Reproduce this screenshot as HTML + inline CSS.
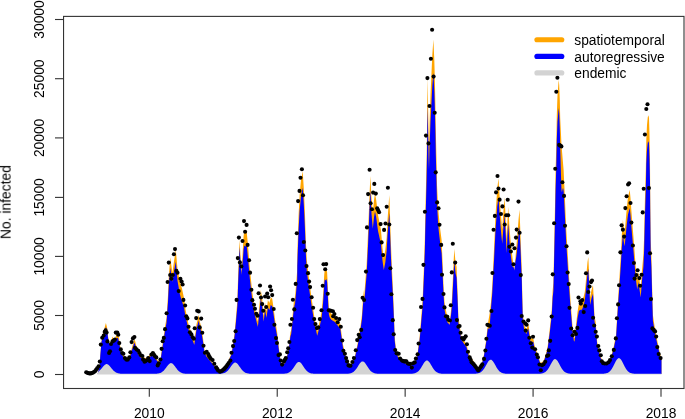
<!DOCTYPE html>
<html><head><meta charset="utf-8"><style>
html,body{margin:0;padding:0;background:#fff;width:685px;height:419px;overflow:hidden}
svg{display:block}
text{font-family:"Liberation Sans", sans-serif;font-size:13.8px;fill:#000}
svg{-webkit-font-smoothing:antialiased}
.t{filter:grayscale(1)}
</style></head><body>
<svg width="685" height="419" viewBox="0 0 685 419">
<rect width="685" height="419" fill="#fff"/>
<polygon points="97.6,374.1 97.6,374.3 99.6,365.5 99.9,361 100.3,355 100.8,349 101.5,341 102.5,335.5 104,330 105.2,325.5 105.9,323.1 107.1,327.5 108.1,336.5 109.3,342.5 110.3,343.5 111.5,340 112.6,336.5 113.6,339.5 115,338.5 116.5,334.5 117.8,334 119,338 119.8,343.5 121.2,351.6 123.4,355 125.6,357.5 127.8,357 129.3,356 130.7,353 132.2,346.5 134.4,339.2 135.4,342.1 136.8,347.9 138.7,353 140.9,356 143.1,356.5 145.3,358.3 147.5,357 149.7,355 151.9,353.8 153.8,355.2 155.5,357.4 157.7,360.3 159.2,361.1 160.6,358.9 162.1,347.2 163.6,337 165,326.8 166.5,318 168,295 168.8,276.5 170.2,257.2 172.4,272.8 173.9,261.9 175.8,249.5 177.5,269.2 179.7,280.9 181.9,288.2 184.1,298.4 185.5,309.6 188.5,324.2 191.4,333 194.3,341.7 196.5,324.2 198.7,314.7 200.1,322.7 201.6,328.6 203.1,338.8 204.5,350.5 206.7,355 211.1,360.9 215.5,366.7 218.4,372.6 219.9,373.3 224.2,368.2 227.2,363.8 230.1,356.5 231.5,353.4 233,344 234.5,333.8 235.9,318 237.4,299.4 238.1,276 239.6,239.8 240.5,256 241.4,272 242.5,255 243.6,236 244.3,231.5 245.5,232.5 246.6,231 247.3,238 248.4,250 249.3,262 250,270 252.2,291.5 254.3,305.8 256.5,315.8 257.9,321.6 259.3,305.8 260.8,290.1 262.2,298.7 263.6,315.8 265.1,303 266.5,311.5 267.9,300.1 269.4,303 270.8,297.2 272.2,298.7 273.7,308.7 275.1,320 277,331 278.5,344.2 279.9,355.9 281.4,363.2 282.8,364.6 285,361.7 287.2,354.4 288.7,347.1 290.4,332.5 291.2,330 292.3,318 293.5,306 294.2,296 294.6,302 295.8,288 296.6,278 297.2,270 297.3,255 297.9,236 298.6,215 299.6,195 301,180 302.7,171.2 303.9,190 305,215 305.8,240 306.8,260 308.1,271.2 311.2,295.6 314.2,315.9 317.2,331.5 319.5,322 321.5,312 322.5,302 323.4,290 324.2,275 324.8,269 325.6,270 326.4,268.5 327.1,272 327.7,284 328.3,298 328.9,308 329.8,311.5 331.4,313.8 334.5,315.9 337.5,319.9 340.3,324 342.9,344.2 345.8,355.9 348.8,363.2 350.2,365.4 352.5,362 354.6,357.3 357.5,344.2 360.4,326.7 361.9,315 362.6,305 363.4,290 364,298 365.2,283 366.6,265 367.5,245 368.5,221 369.5,195 370.4,176.1 371.4,196.5 372.8,212.6 374,200 375,193.6 376.2,200 377.2,208.2 378,215 379.4,222 380.9,229.6 382.5,248 383.8,258.5 385.3,250 386.7,236.9 387.5,220 389.3,195 390,215 390.8,240 391.4,255 391.8,265 393,290 394,315 394.7,336.9 396.2,351.5 399.9,358.8 404.2,361.7 408.6,363.9 411.5,364.6 414.5,361.7 417.4,354.4 419.6,336.9 421,320 422.6,300 423.8,270 424.8,240 425.3,215 426,185 426.6,160 427,130 427.3,100 427.5,78 428,100 428.6,135 429,148 429.6,122 430.5,95 431.4,75 432.3,55 433.4,39.5 434.3,60 434.9,81 435.4,105 435.8,130 436.5,160 437,185 438,205 438.7,214.2 440.3,230 441.6,240 442.5,260 443.5,285 444.5,302 445.3,307 447.4,316.9 449.6,324.2 451.1,309.6 452,298 452.8,280 453.6,262 454.3,248.8 455.5,261.9 456.6,267 457.3,285 457.7,295 458.4,316.9 461.3,335.9 465.7,343.2 466.5,344 468.6,353.4 473.8,361.5 478.2,370.3 478.9,371.4 481.1,367.3 484,354.2 486.2,339.6 487.7,325 489.8,312.5 491,302 492.3,285 493,270 494.2,245 495.5,215 496.5,200 497.3,188 498.5,178.2 499.5,195 500.7,212 502.2,229.5 503.5,210 504.6,197.2 505.5,215 506.7,239.6 507.5,220 508.2,206.7 509.3,225 510.5,240 512.5,258 514.4,270.5 516.5,245 518.5,220 519.5,209.6 520.5,235 521.5,262 521.8,270 522.2,290 522.8,314.3 524.3,325.5 526.3,329.6 528.3,323.5 529.3,330.6 530.4,337.7 533.4,338.7 534.4,344.8 536.4,350.9 538.5,357 540.5,363 543.5,361 545.6,354.9 547.6,346.8 549.6,330.6 551.7,310.3 552.7,290 553.4,283 554.1,250 554.6,225 555.1,200 555.6,170 556.3,145 556.8,115 557.5,95 558.7,79.7 559.2,85 559.8,100 560.2,118 561.5,145 563.6,170 565,200 566.2,228 567.5,250 569.4,283 570.5,300 572.3,323.8 573.8,336.9 574.5,338.2 576,325 577.5,312 579,303 580.5,300 582,299 583.5,297 584.8,292 585.8,282 586.6,272 587.5,262 588.3,257.1 589.2,275 590.1,297.3 591.5,290 593,284.9 593.8,300 594.5,316 595.7,322 597.2,341.9 600.1,355 603,362.3 605.2,363.8 609.6,360.9 613.2,349.2 616.1,334.6 616.9,320 618,300 619.3,280 620.8,255 621.8,235 622.9,220.1 623.8,228 624.6,233 625.6,222 626.8,208 628,197 629.7,189.8 630.5,198 631.3,209.4 632.5,225 633.6,238.7 634.6,252 635.8,268 637.2,280.3 638.4,271.7 640.7,288.9 642,270 643.4,255 644.1,237.3 644.9,200 645.8,170 646.3,140 647,125 647.8,117 648.4,115.3 649,118 649.5,135 650,160 650.2,190 650.7,240 651.4,255 652.1,285 652.9,315 655.1,329.6 658,344.2 660.9,357.3 661.5,358.2 661.5,374.3 661.5,374.1" fill="#FFA500"/>
<polygon points="97.6,374.1 97.6,374.3 97.85,373.2 98.1,372.1 98.35,371.07 98.6,370.06 98.85,369.03 99.1,368 99.35,366.95 99.6,365.88 99.85,362.3 99.9,361.58 100.1,358.65 100.3,355.67 100.35,355.07 100.6,352.04 100.8,349.64 100.85,349.07 101.1,346.28 101.35,343.6 101.5,342.05 101.6,341.61 101.85,340.56 102.1,339.56 102.35,338.56 102.5,337.95 102.6,337.71 102.85,337.06 103.1,336.36 103.35,335.62 103.6,334.83 103.85,334.01 104,333.51 104.1,333.17 104.35,332.31 104.6,331.44 104.85,330.57 105.1,329.69 105.2,329.33 105.35,328.85 105.6,328.03 105.85,327.2 105.9,327.04 106.1,327.65 106.35,328.41 106.6,329.17 106.85,329.91 107.1,330.65 107.35,332.6 107.6,334.55 107.85,336.52 108.1,338.49 108.35,339.54 108.6,340.61 108.85,341.68 109.1,342.77 109.3,343.65 109.35,343.69 109.6,343.86 109.85,344.05 110.1,344.26 110.3,344.44 110.35,344.3 110.6,343.61 110.85,342.94 111.1,342.3 111.35,341.69 111.5,341.33 111.6,341.07 111.85,340.44 112.1,339.83 112.35,339.24 112.6,338.66 112.85,339.53 113.1,340.38 113.35,341.23 113.6,342.05 113.85,342.01 114.1,341.96 114.35,341.9 114.6,341.82 114.85,341.73 115,341.67 115.1,341.46 115.35,340.91 115.6,340.35 115.85,339.79 116.1,339.22 116.35,338.64 116.5,338.29 116.6,338.27 116.85,338.2 117.1,338.13 117.35,338.05 117.6,337.98 117.8,337.91 117.85,338.07 118.1,338.82 118.35,339.58 118.6,340.34 118.85,341.09 119,341.55 119.1,342.17 119.35,343.72 119.6,345.27 119.8,346.51 119.85,346.77 120.1,348.07 120.35,349.38 120.6,350.68 120.85,351.99 121.1,353.29 121.2,353.81 121.35,354.02 121.6,354.37 121.85,354.72 122.1,355.07 122.35,355.42 122.6,355.76 122.85,356.11 123.1,356.46 123.35,356.81 123.4,356.88 123.6,357.09 123.85,357.34 124.1,357.6 124.35,357.85 124.6,358.11 124.85,358.37 125.1,358.62 125.35,358.88 125.6,359.13 125.85,359.08 126.1,359.03 126.35,358.98 126.6,358.93 126.85,358.88 127.1,358.83 127.35,358.78 127.6,358.73 127.8,358.68 127.85,358.65 128.1,358.5 128.35,358.35 128.6,358.2 128.85,358.05 129.1,357.9 129.3,357.78 129.35,357.69 129.6,357.21 129.85,356.72 130.1,356.24 130.35,355.76 130.6,355.28 130.7,355.08 130.85,354.5 131.1,353.52 131.35,352.55 131.6,351.57 131.85,350.6 132.1,349.62 132.2,349.23 132.35,348.79 132.6,348.04 132.85,347.29 133.1,346.55 133.35,345.8 133.6,345.05 133.85,344.31 134.1,343.56 134.35,342.81 134.4,342.66 134.6,343.19 134.85,343.84 135.1,344.49 135.35,345.14 135.4,345.27 135.6,346.02 135.85,346.95 136.1,347.88 136.35,348.82 136.6,349.75 136.8,350.49 136.85,350.62 137.1,351.22 137.35,351.82 137.6,352.43 137.85,353.03 138.1,353.64 138.35,354.24 138.6,354.84 138.7,355.08 138.85,355.27 139.1,355.58 139.35,355.88 139.6,356.19 139.85,356.5 140.1,356.8 140.35,357.11 140.6,357.42 140.85,357.72 140.9,357.78 141.1,357.83 141.35,357.88 141.6,357.93 141.85,357.98 142.1,358.03 142.35,358.08 142.6,358.13 142.85,358.18 143.1,358.23 143.35,358.42 143.6,358.6 143.85,358.79 144.1,358.97 144.35,359.16 144.6,359.34 144.85,359.52 145.1,359.71 145.3,359.85 145.35,359.83 145.6,359.7 145.85,359.56 146.1,359.43 146.35,359.3 146.6,359.16 146.85,359.03 147.1,358.9 147.35,358.76 147.5,358.68 147.6,358.6 147.85,358.4 148.1,358.19 148.35,357.99 148.6,357.78 148.85,357.58 149.1,357.38 149.35,357.17 149.6,356.97 149.7,356.88 149.85,356.81 150.1,356.69 150.35,356.56 150.6,356.44 150.85,356.32 151.1,356.2 151.35,356.07 151.6,355.95 151.85,355.83 151.9,355.8 152.1,355.94 152.35,356.1 152.6,356.27 152.85,356.43 153.1,356.6 153.35,356.76 153.6,356.93 153.8,357.06 153.85,357.12 154.1,357.41 154.35,357.7 154.6,357.99 154.85,358.28 155.1,358.57 155.35,358.86 155.5,359.03 155.6,359.15 155.85,359.45 156.1,359.74 156.35,360.04 156.6,360.33 156.85,360.63 157.1,360.92 157.35,361.22 157.6,361.51 157.7,361.63 157.85,361.7 158.1,361.81 158.35,361.93 158.6,362.04 158.85,362.16 159.1,362.27 159.2,362.32 159.35,362.1 159.6,361.74 159.85,361.38 160.1,361.02 160.35,360.65 160.6,360.29 160.85,358.53 161.1,356.76 161.35,354.99 161.6,353.22 161.85,351.45 162.1,349.68 162.35,348.13 162.6,346.58 162.85,345.03 163.1,343.48 163.35,341.93 163.6,340.37 163.85,338.71 164.1,337.04 164.35,335.37 164.6,333.71 164.85,332.04 165,331.03 165.1,330.49 165.35,329.14 165.6,327.79 165.85,326.43 166.1,325.08 166.35,323.73 166.5,322.91 166.6,321.52 166.85,318.03 167.1,314.55 167.35,311.07 167.6,307.58 167.85,304.1 168,302.01 168.1,299.92 168.35,294.69 168.6,289.46 168.8,285.28 168.85,284.65 169.1,281.53 169.35,278.4 169.6,275.28 169.85,272.17 170.1,269.05 170.2,267.81 170.35,268.76 170.6,270.35 170.85,271.94 171.1,273.53 171.35,275.13 171.6,276.74 171.85,278.34 172.1,279.95 172.35,281.56 172.4,281.88 172.6,280.59 172.85,278.98 173.1,277.37 173.35,275.77 173.6,274.17 173.85,272.58 173.9,272.26 174.1,271.13 174.35,269.71 174.6,268.31 174.85,266.91 175.1,265.53 175.35,264.16 175.6,262.81 175.8,261.74 175.85,262.29 176.1,265.03 176.35,267.79 176.6,270.56 176.85,273.35 177.1,276.15 177.35,278.96 177.5,280.65 177.6,281.23 177.85,282.68 178.1,284.14 178.35,285.61 178.6,287.08 178.85,288.56 179.1,290.03 179.35,291.49 179.6,292.93 179.7,293.5 179.85,294.09 180.1,295.06 180.35,295.99 180.6,296.89 180.85,297.75 181.1,298.56 181.35,299.33 181.6,300.05 181.85,300.74 181.9,300.87 182.1,301.6 182.35,302.48 182.6,303.34 182.85,304.16 183.1,304.96 183.35,305.75 183.6,306.54 183.85,307.32 184.1,308.1 184.35,309.63 184.6,311.17 184.85,312.73 185.1,314.32 185.35,315.92 185.5,316.9 185.6,317.28 185.85,318.23 186.1,319.2 186.35,320.19 186.6,321.2 186.85,322.22 187.1,323.25 187.35,324.3 187.6,325.35 187.85,326.42 188.1,327.49 188.35,328.56 188.5,329.21 188.6,329.48 188.85,330.15 189.1,330.82 189.35,331.5 189.6,332.18 189.85,332.86 190.1,333.54 190.35,334.22 190.6,334.9 190.85,335.58 191.1,336.27 191.35,336.95 191.4,337.08 191.6,337.62 191.85,338.3 192.1,338.97 192.35,339.65 192.6,340.32 192.85,341 193.1,341.67 193.35,342.35 193.6,343.02 193.85,343.7 194.1,344.37 194.3,344.91 194.35,344.56 194.6,342.77 194.85,340.98 195.1,339.19 195.35,337.4 195.6,335.61 195.85,333.82 196.1,332.03 196.35,330.24 196.5,329.16 196.6,328.78 196.85,327.8 197.1,326.83 197.35,325.86 197.6,324.89 197.85,323.92 198.1,322.95 198.35,321.98 198.6,321 198.7,320.61 198.85,321.39 199.1,322.67 199.35,323.96 199.6,325.24 199.85,326.53 200.1,327.81 200.35,328.7 200.6,329.58 200.85,330.47 201.1,331.35 201.35,332.24 201.6,333.12 201.85,334.65 202.1,336.18 202.35,337.71 202.6,339.24 202.85,340.77 203.1,342.31 203.35,344.19 203.6,346.07 203.85,347.95 204.1,349.83 204.35,351.71 204.5,352.83 204.6,353.02 204.85,353.48 205.1,353.94 205.35,354.4 205.6,354.86 205.85,355.32 206.1,355.78 206.35,356.24 206.6,356.7 206.7,356.88 206.85,357.07 207.1,357.37 207.35,357.67 207.6,357.97 207.85,358.27 208.1,358.57 208.35,358.88 208.6,359.18 208.85,359.48 209.1,359.78 209.35,360.08 209.6,360.38 209.85,360.69 210.1,360.99 210.35,361.29 210.6,361.59 210.85,361.89 211.1,362.19 211.35,362.49 211.6,362.79 211.85,363.08 212.1,363.38 212.35,363.68 212.6,363.97 212.85,364.27 213.1,364.57 213.35,364.86 213.6,365.16 213.85,365.46 214.1,365.75 214.35,366.05 214.6,366.35 214.85,366.64 215.1,366.94 215.35,367.24 215.5,367.41 215.6,367.6 215.85,368.05 216.1,368.51 216.35,368.97 216.6,369.43 216.85,369.88 217.1,370.34 217.35,370.8 217.6,371.26 217.85,371.71 218.1,372.17 218.35,372.63 218.4,372.72 218.6,372.8 218.85,372.91 219.1,373.01 219.35,373.11 219.6,373.22 219.85,373.32 219.9,373.34 220.1,373.13 220.35,372.86 220.6,372.59 220.85,372.32 221.1,372.05 221.35,371.78 221.6,371.51 221.85,371.24 222.1,370.97 222.35,370.7 222.6,370.43 222.85,370.16 223.1,369.89 223.35,369.61 223.6,369.34 223.85,369.07 224.1,368.79 224.2,368.68 224.35,368.48 224.6,368.14 224.85,367.8 225.1,367.45 225.35,367.11 225.6,366.77 225.85,366.42 226.1,366.08 226.35,365.73 226.6,365.38 226.85,365.03 227.1,364.68 227.2,364.54 227.35,364.18 227.6,363.59 227.85,363 228.1,362.41 228.35,361.81 228.6,361.22 228.85,360.62 229.1,360.02 229.35,359.42 229.6,358.82 229.85,358.22 230.1,357.62 230.35,357.08 230.6,356.55 230.85,356.02 231.1,355.48 231.35,354.95 231.5,354.63 231.6,354.05 231.85,352.61 232.1,351.16 232.35,349.72 232.6,348.28 232.85,346.84 233,345.98 233.1,345.36 233.35,343.81 233.6,342.25 233.85,340.71 234.1,339.16 234.35,337.62 234.5,336.69 234.6,335.67 234.85,333.13 235.1,330.59 235.35,328.05 235.6,325.51 235.85,322.98 235.9,322.47 236.1,320.25 236.35,317.47 236.6,314.7 236.85,311.93 237.1,309.16 237.35,306.38 237.4,305.82 237.6,299.8 237.85,292.21 238.1,284.5 238.35,278.69 238.6,272.59 238.85,266.21 239.1,259.67 239.35,253.21 239.6,247.11 239.85,251.36 240.1,255.75 240.35,259.87 240.5,262.12 240.6,263.5 240.85,266.79 241.1,270.19 241.35,274.06 241.4,274.92 241.6,272.14 241.85,269.26 242.1,266.87 242.35,264.71 242.5,263.41 242.6,262.34 242.85,259.49 243.1,256.35 243.35,252.95 243.6,249.34 243.85,248.04 244.1,246.66 244.3,245.54 244.35,245.58 244.6,245.8 244.85,246 245.1,246.2 245.35,246.4 245.5,246.52 245.6,246.4 245.85,246.11 246.1,245.81 246.35,245.51 246.6,245.21 246.85,247.47 247.1,249.73 247.3,251.53 247.35,252.02 247.6,254.48 247.85,256.94 248.1,259.4 248.35,261.86 248.4,262.35 248.6,264.76 248.85,267.76 249.1,270.76 249.3,273.16 249.35,273.68 249.6,276.25 249.85,278.83 250,280.37 250.1,281.25 250.35,283.45 250.6,285.65 250.85,287.85 251.1,290.05 251.35,292.25 251.6,294.45 251.85,296.65 252.1,298.85 252.2,299.73 252.35,300.65 252.6,302.18 252.85,303.71 253.1,305.25 253.35,306.78 253.6,308.31 253.85,309.84 254.1,311.38 254.3,312.6 254.35,312.81 254.6,313.83 254.85,314.85 255.1,315.88 255.35,316.9 255.6,317.92 255.85,318.94 256.1,319.97 256.35,320.99 256.5,321.6 256.6,321.98 256.85,322.91 257.1,323.84 257.35,324.77 257.6,325.71 257.85,326.64 257.9,326.82 258.1,324.79 258.35,322.25 258.6,319.71 258.85,317.18 259.1,314.64 259.3,312.6 259.35,312.13 259.6,309.78 259.85,307.42 260.1,305.07 260.35,302.71 260.6,300.36 260.8,298.47 260.85,298.75 261.1,300.13 261.35,301.52 261.6,302.9 261.85,304.28 262.1,305.66 262.2,306.21 262.35,307.86 262.6,310.61 262.85,313.36 263.1,316.11 263.35,318.86 263.6,321.6 263.85,319.68 264.1,317.76 264.35,315.84 264.6,313.92 264.85,312 265.1,310.08 265.35,311.45 265.6,312.82 265.85,314.18 266.1,315.55 266.35,316.92 266.5,317.73 266.6,317 266.85,315.17 267.1,313.34 267.35,311.51 267.6,309.67 267.85,307.84 267.9,307.47 268.1,307.82 268.35,308.26 268.6,308.69 268.85,309.13 269.1,309.56 269.35,310 269.4,310.08 269.6,309.34 269.85,308.41 270.1,307.47 270.35,306.54 270.6,305.61 270.8,304.86 270.85,304.91 271.1,305.15 271.35,305.4 271.6,305.64 271.85,305.88 272.1,306.12 272.2,306.21 272.35,307.11 272.6,308.61 272.85,310.11 273.1,311.61 273.35,313.11 273.6,314.61 273.7,315.21 273.85,316.3 274.1,318.12 274.35,319.94 274.6,321.75 274.85,323.57 275.1,325.38 275.35,326.69 275.6,327.99 275.85,329.29 276.1,330.6 276.35,331.9 276.6,333.2 276.85,334.5 277,335.28 277.1,336.08 277.35,338.06 277.6,340.04 277.85,342.02 278.1,344 278.35,345.98 278.5,347.16 278.6,347.92 278.85,349.8 279.1,351.68 279.35,353.56 279.6,355.44 279.85,357.32 279.9,357.69 280.1,358.57 280.35,359.66 280.6,360.76 280.85,361.85 281.1,362.95 281.35,364.04 281.4,364.26 281.6,364.44 281.85,364.66 282.1,364.89 282.35,365.11 282.6,365.34 282.8,365.52 282.85,365.46 283.1,365.16 283.35,364.86 283.6,364.56 283.85,364.27 284.1,363.97 284.35,363.67 284.6,363.37 284.85,363.07 285,362.89 285.1,362.59 285.35,361.84 285.6,361.09 285.85,360.34 286.1,359.59 286.35,358.84 286.6,358.09 286.85,357.33 287.1,356.58 287.2,356.28 287.35,355.62 287.6,354.51 287.85,353.41 288.1,352.31 288.35,351.2 288.6,350.09 288.7,349.65 288.85,348.48 289.1,346.54 289.35,344.59 289.6,342.64 289.85,340.69 290.1,338.74 290.35,336.79 290.4,336.4 290.6,335.82 290.85,335.09 291.1,334.36 291.2,334.07 291.35,332.58 291.6,330.1 291.85,327.62 292.1,325.13 292.3,323.15 292.35,322.69 292.6,320.41 292.85,318.12 293.1,315.84 293.35,313.55 293.5,312.18 293.6,310.88 293.85,307.63 294.1,304.38 294.2,303.07 294.35,305.08 294.6,308.41 294.85,305.75 295.1,303.09 295.35,300.43 295.6,297.77 295.8,295.64 295.85,295.07 296.1,292.22 296.35,289.38 296.6,286.54 296.85,283.51 297.1,280.48 297.2,279.27 297.3,265.76 297.35,264.33 297.6,257.18 297.85,250.03 297.9,248.6 298.1,243.18 298.35,236.39 298.6,229.6 298.85,225.04 299.1,220.46 299.35,215.85 299.6,211.22 299.85,208.64 300.1,206.03 300.35,203.39 300.6,200.73 300.85,198.04 301,196.43 301.1,195.86 301.35,194.45 301.6,193.08 301.85,191.75 302.1,190.5 302.35,189.32 302.6,188.22 302.7,187.81 302.85,190.06 303.1,193.87 303.35,197.71 303.6,201.58 303.85,205.44 303.9,206.22 304.1,210.58 304.35,216 304.6,221.39 304.85,226.74 305,229.92 305.1,232.81 305.35,240 305.6,247.15 305.8,252.85 305.85,253.77 306.1,258.34 306.35,262.9 306.6,267.44 306.8,271.07 306.85,271.47 307.1,273.44 307.35,275.4 307.6,277.36 307.85,279.32 308.1,281.28 308.35,283.07 308.6,284.86 308.85,286.64 309.1,288.42 309.35,290.21 309.6,291.99 309.85,293.77 310.1,295.55 310.35,297.33 310.6,299.11 310.85,300.89 311.1,302.66 311.2,303.37 311.35,304.29 311.6,305.82 311.85,307.35 312.1,308.87 312.35,310.4 312.6,311.92 312.85,313.45 313.1,314.98 313.35,316.5 313.6,318.02 313.85,319.55 314.1,321.07 314.2,321.68 314.35,322.39 314.6,323.56 314.85,324.73 315.1,325.9 315.35,327.07 315.6,328.24 315.85,329.41 316.1,330.58 316.35,331.75 316.6,332.92 316.85,334.09 317.1,335.26 317.2,335.73 317.35,335.17 317.6,334.25 317.85,333.32 318.1,332.39 318.35,331.46 318.6,330.53 318.85,329.6 319.1,328.67 319.35,327.74 319.5,327.18 319.6,326.73 319.85,325.61 320.1,324.48 320.35,323.36 320.6,322.23 320.85,321.11 321.1,319.98 321.35,318.86 321.5,318.18 321.6,317.28 321.85,315.03 322.1,312.78 322.35,310.53 322.5,309.18 322.6,307.98 322.85,304.98 323.1,301.98 323.35,298.98 323.4,298.38 323.6,295.01 323.85,290.79 324.1,286.57 324.2,284.88 324.35,283.53 324.6,281.28 324.8,279.48 324.85,279.54 325.1,279.82 325.35,280.1 325.6,280.38 325.85,279.96 326.1,279.54 326.35,279.12 326.4,279.03 326.6,279.93 326.85,281.06 327.1,282.18 327.35,286.68 327.6,291.18 327.7,292.98 327.85,296.13 328.1,301.38 328.3,305.58 328.35,306.33 328.6,310.08 328.85,313.83 328.9,314.58 329.1,315.28 329.35,316.16 329.6,317.03 329.8,317.73 329.85,317.8 330.1,318.12 330.35,318.45 330.6,318.77 330.85,319.09 331.1,319.42 331.35,319.74 331.4,319.8 331.6,319.93 331.85,320.08 332.1,320.23 332.35,320.38 332.6,320.54 332.85,320.69 333.1,320.84 333.35,320.99 333.6,321.15 333.85,321.3 334.1,321.45 334.35,321.6 334.5,321.69 334.6,321.81 334.85,322.11 335.1,322.41 335.35,322.71 335.6,323.01 335.85,323.31 336.1,323.61 336.35,323.91 336.6,324.21 336.85,324.51 337.1,324.81 337.35,325.11 337.5,325.29 337.6,325.43 337.85,325.76 338.1,326.09 338.35,326.41 338.6,326.74 338.85,327.07 339.1,327.4 339.35,327.73 339.6,328.06 339.85,328.39 340.1,328.72 340.3,328.98 340.35,329.33 340.6,331.08 340.85,332.83 341.1,334.58 341.35,336.33 341.6,338.07 341.85,339.82 342.1,341.57 342.35,343.32 342.6,345.07 342.85,346.81 342.9,347.16 343.1,347.89 343.35,348.8 343.6,349.7 343.85,350.61 344.1,351.52 344.35,352.43 344.6,353.33 344.85,354.24 345.1,355.15 345.35,356.06 345.6,356.96 345.8,357.69 345.85,357.8 346.1,358.34 346.35,358.89 346.6,359.44 346.85,359.98 347.1,360.53 347.35,361.08 347.6,361.62 347.85,362.17 348.1,362.71 348.35,363.26 348.6,363.8 348.8,364.24 348.85,364.31 349.1,364.66 349.35,365.01 349.6,365.36 349.85,365.71 350.1,366.06 350.2,366.19 350.35,365.99 350.6,365.65 350.85,365.31 351.1,364.97 351.35,364.63 351.6,364.29 351.85,363.95 352.1,363.6 352.35,363.26 352.5,363.05 352.6,362.84 352.85,362.32 353.1,361.8 353.35,361.28 353.6,360.76 353.85,360.24 354.1,359.71 354.35,359.19 354.6,358.66 354.85,357.62 355.1,356.57 355.35,355.53 355.6,354.48 355.85,353.43 356.1,352.38 356.35,351.33 356.6,350.28 356.85,349.22 357.1,348.17 357.35,347.12 357.5,346.48 357.6,345.92 357.85,344.53 358.1,343.13 358.35,341.73 358.6,340.33 358.85,338.94 359.1,337.54 359.35,336.15 359.6,334.75 359.85,333.36 360.1,331.97 360.35,330.58 360.4,330.3 360.6,328.88 360.85,327.1 361.1,325.32 361.35,323.55 361.6,321.77 361.85,320.01 361.9,319.65 362.1,317.08 362.35,313.86 362.6,310.64 362.85,306.42 363.1,302.21 363.35,298 363.4,297.16 363.6,299.57 363.85,302.58 364,304.4 364.1,303.28 364.35,300.49 364.6,297.7 364.85,294.92 365.1,292.13 365.2,291.02 365.35,289.31 365.6,286.45 365.85,283.59 366.1,280.73 366.35,277.88 366.6,275.02 366.85,270.04 367.1,265.06 367.35,260.04 367.5,257.01 367.6,254.82 367.85,249.28 368.1,243.63 368.35,237.84 368.5,234.29 368.6,231.71 368.85,225.16 369.1,218.49 369.35,211.81 369.5,207.84 369.6,205.69 369.85,200.48 370.1,195.58 370.35,191.04 370.4,190.17 370.6,194.47 370.85,199.98 371.1,205.51 371.35,210.97 371.4,212.04 371.6,214.65 371.85,217.78 372.1,220.75 372.35,223.6 372.6,226.35 372.8,228.5 372.85,228.04 373.1,225.73 373.35,223.41 373.6,221.06 373.85,218.72 374,217.3 374.1,216.73 374.35,215.3 374.6,213.87 374.85,212.43 375,211.57 375.1,212.06 375.35,213.26 375.6,214.47 375.85,215.67 376.1,216.87 376.2,217.36 376.35,218.46 376.6,220.31 376.85,222.16 377.1,224.01 377.2,224.75 377.35,225.9 377.6,227.81 377.85,229.72 378,230.87 378.1,231.32 378.35,232.45 378.6,233.58 378.85,234.7 379.1,235.83 379.35,236.95 379.4,237.18 379.6,238.09 379.85,239.23 380.1,240.37 380.35,241.51 380.6,242.65 380.85,243.79 380.9,244.02 381.1,246.09 381.35,248.68 381.6,251.27 381.85,253.86 382.1,256.44 382.35,259.03 382.5,260.58 382.6,261.31 382.85,263.13 383.1,264.95 383.35,266.76 383.6,268.58 383.8,270.03 383.85,269.78 384.1,268.5 384.35,267.23 384.6,265.95 384.85,264.68 385.1,263.4 385.3,262.38 385.35,261.96 385.6,259.86 385.85,257.75 386.1,255.65 386.35,253.54 386.6,251.44 386.7,250.59 386.85,247.74 387.1,242.99 387.35,238.24 387.5,235.38 387.6,234.13 387.85,231.01 388.1,227.88 388.35,224.76 388.6,221.63 388.85,218.51 389.1,215.38 389.3,212.88 389.35,214.17 389.6,220.6 389.85,227.03 390,230.88 390.1,233.7 390.35,240.73 390.6,247.76 390.8,253.38 390.85,254.51 391.1,260.13 391.35,265.76 391.4,266.88 391.6,271.38 391.8,275.88 391.85,276.82 392.1,281.51 392.35,286.2 392.6,290.88 392.85,295.57 393,298.38 393.1,300.63 393.35,306.26 393.6,311.88 393.85,317.51 394,320.88 394.1,323.7 394.35,330.74 394.6,337.78 394.7,340.59 394.85,341.91 395.1,344.1 395.35,346.29 395.6,348.48 395.85,350.67 396.1,352.86 396.2,353.73 396.35,354 396.6,354.45 396.85,354.89 397.1,355.33 397.35,355.78 397.6,356.22 397.85,356.66 398.1,357.11 398.35,357.55 398.6,358 398.85,358.44 399.1,358.88 399.35,359.33 399.6,359.77 399.85,360.22 399.9,360.3 400.1,360.43 400.35,360.58 400.6,360.73 400.85,360.88 401.1,361.03 401.35,361.18 401.6,361.34 401.85,361.49 402.1,361.64 402.35,361.79 402.6,361.94 402.85,362.1 403.1,362.25 403.35,362.4 403.6,362.55 403.85,362.7 404.1,362.85 404.2,362.91 404.35,362.98 404.6,363.09 404.85,363.21 405.1,363.32 405.35,363.43 405.6,363.54 405.85,363.66 406.1,363.77 406.35,363.88 406.6,363.99 406.85,364.11 407.1,364.22 407.35,364.33 407.6,364.44 407.85,364.56 408.1,364.67 408.35,364.78 408.6,364.89 408.85,364.95 409.1,365 409.35,365.05 409.6,365.11 409.85,365.16 410.1,365.21 410.35,365.27 410.6,365.32 410.85,365.37 411.1,365.43 411.35,365.48 411.5,365.51 411.6,365.42 411.85,365.2 412.1,364.99 412.35,364.77 412.6,364.55 412.85,364.33 413.1,364.1 413.35,363.88 413.6,363.66 413.85,363.44 414.1,363.22 414.35,362.99 414.5,362.86 414.6,362.63 414.85,362.06 415.1,361.48 415.35,360.91 415.6,360.33 415.85,359.76 416.1,359.18 416.35,358.6 416.6,358.02 416.85,357.44 417.1,356.86 417.35,356.28 417.4,356.16 417.6,354.71 417.85,352.9 418.1,351.09 418.35,349.28 418.6,347.47 418.85,345.65 419.1,343.83 419.35,342.02 419.6,340.19 419.85,337.45 420.1,334.7 420.35,331.94 420.6,329.19 420.85,326.44 421,324.78 421.1,323.64 421.35,320.79 421.6,317.94 421.85,315.08 422.1,312.23 422.35,309.37 422.6,306.52 422.85,300.85 423.1,295.18 423.35,289.52 423.6,283.85 423.8,279.32 423.85,277.96 424.1,271.17 424.35,264.39 424.6,257.61 424.8,252.18 424.85,249.93 425.1,238.65 425.3,229.63 425.35,227.69 425.6,218.03 425.85,208.37 426,202.58 426.1,198.82 426.35,189.43 426.6,180.05 426.85,163.18 427,153.05 427.1,144.05 427.3,126.06 427.35,121.11 427.5,106.26 427.6,110.23 427.85,120.14 428,126.09 428.1,131.34 428.35,144.49 428.6,157.64 428.85,164.98 429,169.38 429.1,165.49 429.35,155.78 429.6,146.06 429.85,139.35 430.1,132.63 430.35,125.92 430.5,121.9 430.6,119.91 430.85,114.96 431.1,110 431.35,105.04 431.4,104.05 431.6,100.08 431.85,95.13 432.1,90.17 432.3,86.2 432.35,85.58 432.6,82.45 432.85,79.32 433.1,76.19 433.35,73.05 433.4,72.43 433.6,76.55 433.85,81.71 434.1,86.87 434.3,91 434.35,92.58 434.6,100.48 434.85,108.39 434.9,109.97 435.1,118.63 435.35,129.45 435.4,131.62 435.6,142.89 435.8,154.15 435.85,156.09 436.1,165.75 436.35,175.41 436.5,181.21 436.6,185.71 436.85,196.98 437,203.74 437.1,205.55 437.35,210.06 437.6,214.57 437.85,219.08 438,221.79 438.1,222.98 438.35,225.94 438.6,228.91 438.7,230.09 438.85,231.43 439.1,233.66 439.35,235.89 439.6,238.12 439.85,240.34 440.1,242.57 440.3,244.35 440.35,244.7 440.6,246.43 440.85,248.17 441.1,249.9 441.35,251.63 441.6,253.37 441.85,258.37 442.1,263.37 442.35,268.37 442.5,271.37 442.6,273.62 442.85,279.25 443.1,284.88 443.35,290.5 443.5,293.88 443.6,295.41 443.85,299.23 444.1,303.06 444.35,306.89 444.5,309.18 444.6,309.74 444.85,311.15 445.1,312.56 445.3,313.68 445.35,313.89 445.6,314.95 445.85,316.01 446.1,317.07 446.35,318.11 446.6,319.15 446.85,320.15 447.1,321.12 447.35,322.02 447.4,322.19 447.6,322.58 447.85,322.98 448.1,323.27 448.35,323.46 448.6,323.61 448.85,323.78 449.1,324.05 449.35,324.5 449.6,325.19 449.85,322.94 450.1,320.94 450.35,319.16 450.6,317.52 450.85,315.95 451.1,314.36 451.35,311.96 451.6,309.46 451.85,306.85 452,305.24 452.1,303.29 452.35,298.34 452.6,293.36 452.8,289.34 452.85,288.33 453.1,283.29 453.35,278.24 453.6,273.18 453.85,268.94 454.1,264.7 454.3,261.3 454.35,261.8 454.6,264.25 454.85,266.71 455.1,269.16 455.35,271.62 455.5,273.09 455.6,273.51 455.85,274.56 456.1,275.6 456.35,276.64 456.6,277.68 456.85,283.47 457.1,289.26 457.3,293.88 457.35,295.01 457.6,300.63 457.7,302.88 457.85,307.11 458.1,314.15 458.35,321.19 458.4,322.59 458.6,323.77 458.85,325.25 459.1,326.72 459.35,328.2 459.6,329.67 459.85,331.14 460.1,332.62 460.35,334.09 460.6,335.57 460.85,337.04 461.1,338.52 461.3,339.69 461.35,339.77 461.6,340.14 461.85,340.52 462.1,340.89 462.35,341.26 462.6,341.64 462.85,342.01 463.1,342.38 463.35,342.76 463.6,343.13 463.85,343.5 464.1,343.88 464.35,344.25 464.6,344.62 464.85,345 465.1,345.37 465.35,345.74 465.6,346.12 465.7,346.26 465.85,346.4 466.1,346.62 466.35,346.85 466.5,346.98 466.6,347.39 466.85,348.39 467.1,349.4 467.35,350.41 467.6,351.42 467.85,352.42 468.1,353.43 468.35,354.44 468.6,355.44 468.85,355.79 469.1,356.15 469.35,356.5 469.6,356.85 469.85,357.2 470.1,357.55 470.35,357.9 470.6,358.25 470.85,358.6 471.1,358.95 471.35,359.3 471.6,359.65 471.85,360 472.1,360.35 472.35,360.7 472.6,361.05 472.85,361.4 473.1,361.75 473.35,362.1 473.6,362.45 473.8,362.73 473.85,362.82 474.1,363.27 474.35,363.72 474.6,364.16 474.85,364.61 475.1,365.06 475.35,365.51 475.6,365.96 475.85,366.41 476.1,366.85 476.35,367.3 476.6,367.75 476.85,368.2 477.1,368.64 477.35,369.09 477.6,369.53 477.85,369.98 478.1,370.42 478.2,370.6 478.35,370.81 478.6,371.15 478.85,371.5 478.9,371.57 479.1,371.23 479.35,370.8 479.6,370.37 479.85,369.94 480.1,369.51 480.35,369.07 480.6,368.64 480.85,368.2 481.1,367.77 481.35,366.73 481.6,365.69 481.85,364.66 482.1,363.62 482.35,362.57 482.6,361.53 482.85,360.49 483.1,359.44 483.35,358.39 483.6,357.34 483.85,356.29 484,355.66 484.1,355.04 484.35,353.51 484.6,351.98 484.85,350.44 485.1,348.91 485.35,347.37 485.6,345.83 485.85,344.29 486.1,342.76 486.2,342.14 486.35,340.8 486.6,338.57 486.85,336.34 487.1,334.14 487.35,332.01 487.6,330.01 487.7,329.29 487.85,328.8 488.1,328.34 488.35,328.37 488.6,328.82 488.85,329.35 489.1,329.47 489.35,328.69 489.6,326.8 489.8,324.6 489.85,323.88 490.1,320.07 490.35,316.27 490.6,312.85 490.85,309.92 491,308.38 491.1,307.03 491.35,303.84 491.6,300.79 491.85,297.83 492.1,294.89 492.3,292.55 492.35,291.59 492.6,286.8 492.85,282.01 493,279.14 493.1,277.27 493.35,272.62 493.6,267.97 493.85,263.33 494.1,258.68 494.2,256.82 494.35,253.73 494.6,248.58 494.85,243.44 495.1,238.29 495.35,233.14 495.5,230.05 495.6,228.72 495.85,225.39 496.1,222.06 496.35,218.73 496.5,216.73 496.6,215.4 496.85,212.06 497.1,208.73 497.3,206.06 497.35,205.7 497.6,203.9 497.85,202.1 498.1,200.29 498.35,198.49 498.5,197.4 498.6,198.93 498.85,202.74 499.1,206.54 499.35,210.35 499.5,212.63 499.6,213.91 499.85,217.12 500.1,220.33 500.35,223.54 500.6,226.74 500.7,228.02 500.85,229.61 501.1,232.25 501.35,234.89 501.6,237.52 501.85,240.16 502.1,242.8 502.2,243.85 502.35,241.83 502.6,238.46 502.85,235.1 503.1,231.73 503.35,228.36 503.5,226.34 503.6,225.29 503.85,222.68 504.1,220.06 504.35,217.45 504.6,214.84 504.85,219.29 505.1,223.74 505.35,228.19 505.5,230.87 505.6,232.71 505.85,237.33 506.1,241.94 506.35,246.55 506.6,251.17 506.7,253.01 506.85,249.71 507.1,244.2 507.35,238.68 507.5,235.38 507.6,233.67 507.85,229.39 508.1,225.12 508.2,223.41 508.35,225.66 508.6,229.4 508.85,233.14 509.1,236.89 509.3,239.88 509.35,240.44 509.6,243.25 509.85,246.06 510.1,248.86 510.35,251.65 510.5,253.32 510.6,254.1 510.85,256.05 511.1,257.95 511.35,259.77 511.6,261.48 511.85,263.05 512.1,264.44 512.35,265.65 512.5,266.28 512.6,266.44 512.85,266.73 513.1,266.91 513.35,267.1 513.6,267.4 513.85,267.95 514.1,268.85 514.35,270.18 514.4,270.5 514.6,268.22 514.85,265.77 515.1,263.75 515.35,262.05 515.6,260.57 515.85,259.16 516.1,257.71 516.35,256.13 516.5,255.1 516.6,254.34 516.85,252.29 517.1,250.05 517.35,247.64 517.6,245.1 517.85,242.46 518.1,239.76 518.35,237 518.5,235.34 518.6,234.42 518.85,232.09 519.1,229.76 519.35,227.43 519.5,226.02 519.6,228.31 519.85,234.03 520.1,239.74 520.35,245.46 520.5,248.88 520.6,251.31 520.85,257.39 521.1,263.46 521.35,269.54 521.5,273.18 521.6,275.58 521.8,280.38 521.85,282.63 522.1,293.88 522.2,298.38 522.35,303.85 522.6,312.96 522.8,320.25 522.85,320.59 523.1,322.27 523.35,323.95 523.6,325.63 523.85,327.31 524.1,328.99 524.3,330.33 524.35,330.43 524.6,330.89 524.85,331.35 525.1,331.81 525.35,332.27 525.6,332.73 525.85,333.19 526.1,333.66 526.3,334.02 526.35,333.89 526.6,333.2 526.85,332.52 527.1,331.83 527.35,331.14 527.6,330.46 527.85,329.77 528.1,329.08 528.3,328.53 528.35,328.85 528.6,330.45 528.85,332.05 529.1,333.65 529.3,334.92 529.35,335.22 529.6,336.67 529.85,338.12 530.1,339.57 530.35,341.02 530.4,341.31 530.6,341.37 530.85,341.45 531.1,341.52 531.35,341.6 531.6,341.67 531.85,341.75 532.1,341.82 532.35,341.9 532.6,341.97 532.85,342.05 533.1,342.12 533.35,342.2 533.4,342.21 533.6,343.31 533.85,344.68 534.1,346.06 534.35,347.43 534.4,347.7 534.6,348.25 534.85,348.94 535.1,349.62 535.35,350.31 535.6,351 535.85,351.68 536.1,352.37 536.35,353.05 536.4,353.19 536.6,353.71 536.85,354.37 537.1,355.02 537.35,355.67 537.6,356.33 537.85,356.98 538.1,357.63 538.35,358.29 538.5,358.68 538.6,358.95 538.85,359.62 539.1,360.29 539.35,360.97 539.6,361.64 539.85,362.31 540.1,362.99 540.35,363.66 540.5,364.06 540.6,364 540.85,363.85 541.1,363.7 541.35,363.54 541.6,363.39 541.85,363.23 542.1,363.08 542.35,362.92 542.6,362.77 542.85,362.61 543.1,362.45 543.35,362.29 543.5,362.2 543.6,361.93 543.85,361.27 544.1,360.61 544.35,359.94 544.6,359.27 544.85,358.6 545.1,357.93 545.35,357.26 545.6,356.59 545.85,355.66 546.1,354.73 546.35,353.79 546.6,352.85 546.85,351.92 547.1,350.98 547.35,350.03 547.6,349.09 547.85,347.23 548.1,345.37 548.35,343.51 548.6,341.65 548.85,339.79 549.1,337.92 549.35,336.06 549.6,334.19 549.85,331.97 550.1,329.75 550.35,327.53 550.6,325.3 550.85,323.08 551.1,320.86 551.35,318.64 551.6,316.42 551.7,315.53 551.85,312.76 552.1,308.15 552.35,303.54 552.6,298.94 552.7,297.1 552.85,295.73 553.1,293.44 553.35,291.16 553.4,290.71 553.6,282.2 553.85,271.57 554.1,260.94 554.35,249.68 554.6,238.42 554.85,227.16 555.1,215.91 555.35,202.41 555.6,188.92 555.85,180.89 556.1,172.87 556.3,166.46 556.35,163.76 556.6,150.29 556.8,139.51 556.85,138.23 557.1,131.83 557.35,125.43 557.5,121.6 557.6,120.46 557.85,117.63 558.1,114.81 558.35,111.99 558.6,109.18 558.7,108.06 558.85,109.56 559.1,112.13 559.2,113.2 559.35,116.82 559.6,123.15 559.8,128.61 559.85,130.94 560.1,143.05 560.2,148.13 560.35,152.83 560.6,161.32 560.85,170.22 561.1,178.74 561.35,185.99 561.5,189.44 561.6,190.6 561.85,192.01 562.1,191.67 562.35,190.35 562.6,188.94 562.85,188.13 563.1,188.23 563.35,189.24 563.6,190.97 563.85,195.31 564.1,199.93 564.35,204.68 564.6,209.48 564.85,214.31 565,217.21 565.1,219.32 565.35,224.58 565.6,229.85 565.85,235.11 566.1,240.37 566.2,242.48 566.35,244.77 566.6,248.59 566.85,252.4 567.1,256.22 567.35,260.04 567.5,262.32 567.6,263.89 567.85,267.8 568.1,271.72 568.35,275.63 568.6,279.54 568.85,283.46 569.1,287.37 569.35,291.28 569.4,292.06 569.6,294.84 569.85,298.32 570.1,301.8 570.35,305.28 570.5,307.37 570.6,308.56 570.85,311.54 571.1,314.51 571.35,317.49 571.6,320.47 571.85,323.44 572.1,326.42 572.3,328.8 572.35,329.19 572.6,331.16 572.85,333.12 573.1,335.09 573.35,337.05 573.6,339.02 573.8,340.59 573.85,340.68 574.1,341.09 574.35,341.51 574.5,341.76 574.6,340.97 574.85,338.99 575.1,337.01 575.35,335.03 575.6,333.05 575.85,331.07 576,329.89 576.1,329.11 576.35,327.16 576.6,325.21 576.85,323.27 577.1,321.34 577.35,319.41 577.5,318.26 577.6,317.73 577.85,316.43 578.1,315.15 578.35,313.89 578.6,312.67 578.85,311.48 579,310.79 579.1,310.69 579.35,310.48 579.6,310.3 579.85,310.14 580.1,309.99 580.35,309.85 580.5,309.75 580.6,309.79 580.85,309.87 581.1,309.89 581.35,309.84 581.6,309.7 581.85,309.48 582,309.32 582.1,309.13 582.35,308.63 582.6,308.08 582.85,307.49 583.1,306.89 583.35,306.3 583.5,305.95 583.6,305.5 583.85,304.39 584.1,303.31 584.35,302.27 584.6,301.26 584.8,300.48 584.85,300.01 585.1,297.68 585.35,295.36 585.6,293.07 585.8,291.25 585.85,290.68 586.1,287.84 586.35,285.02 586.6,282.2 586.85,279.69 587.1,277.19 587.35,274.69 587.5,273.19 587.6,272.63 587.85,271.26 588.1,269.88 588.3,268.78 588.35,269.67 588.6,274.14 588.85,278.62 589.1,283.09 589.2,284.88 589.35,288.23 589.6,293.8 589.85,299.38 590.1,304.95 590.35,303.78 590.6,302.61 590.85,301.44 591.1,300.26 591.35,299.09 591.5,298.38 591.6,298.08 591.85,297.31 592.1,296.55 592.35,295.78 592.6,295.02 592.85,294.25 593,293.79 593.1,295.49 593.35,299.74 593.6,303.99 593.8,307.38 593.85,308.41 594.1,313.56 594.35,318.7 594.5,321.78 594.6,322.23 594.85,323.36 595.1,324.48 595.35,325.61 595.6,326.73 595.7,327.18 595.85,328.98 596.1,331.96 596.35,334.95 596.6,337.93 596.85,340.92 597.1,343.9 597.2,345.09 597.35,345.7 597.6,346.72 597.85,347.74 598.1,348.75 598.35,349.77 598.6,350.79 598.85,351.8 599.1,352.82 599.35,353.83 599.6,354.85 599.85,355.87 600.1,356.88 600.35,357.45 600.6,358.01 600.85,358.58 601.1,359.15 601.35,359.71 601.6,360.28 601.85,360.84 602.1,361.41 602.35,361.97 602.6,362.54 602.85,363.1 603,363.44 603.1,363.5 603.35,363.66 603.6,363.81 603.85,363.96 604.1,364.11 604.35,364.26 604.6,364.41 604.85,364.56 605.1,364.71 605.2,364.77 605.35,364.68 605.6,364.53 605.85,364.37 606.1,364.22 606.35,364.06 606.6,363.91 606.85,363.75 607.1,363.59 607.35,363.44 607.6,363.28 607.85,363.12 608.1,362.96 608.35,362.79 608.6,362.63 608.85,362.46 609.1,362.3 609.35,362.13 609.6,361.96 609.85,361.21 610.1,360.45 610.35,359.69 610.6,358.93 610.85,358.17 611.1,357.41 611.35,356.64 611.6,355.87 611.85,355.1 612.1,354.33 612.35,353.56 612.6,352.78 612.85,352.01 613.1,351.23 613.2,350.92 613.35,350.21 613.6,349.03 613.85,347.85 614.1,346.66 614.35,345.48 614.6,344.3 614.85,343.11 615.1,341.93 615.35,340.75 615.6,339.57 615.85,338.39 616.1,337.21 616.35,333.07 616.6,328.92 616.85,324.78 616.9,323.95 617.1,320.65 617.35,316.53 617.6,312.42 617.85,308.3 618,305.84 618.1,304.45 618.35,300.98 618.6,297.51 618.85,294.04 619.1,290.58 619.3,287.82 619.35,287.07 619.6,283.33 619.85,279.59 620.1,275.86 620.35,272.14 620.6,268.41 620.8,265.44 620.85,264.54 621.1,260.08 621.35,255.62 621.6,251.16 621.8,247.59 621.85,246.99 622.1,243.99 622.35,240.99 622.6,237.99 622.85,234.99 622.9,234.39 623.1,236.01 623.35,238.04 623.6,240.06 623.8,241.68 623.85,241.97 624.1,243.43 624.35,244.88 624.6,246.34 624.85,243.91 625.1,241.48 625.35,239.05 625.6,236.62 625.85,234.03 626.1,231.45 626.35,228.86 626.6,226.27 626.8,224.2 626.85,223.79 627.1,221.76 627.35,219.73 627.6,217.69 627.85,215.65 628,214.43 628.1,214.06 628.35,213.13 628.6,212.2 628.85,211.26 629.1,210.33 629.35,209.39 629.6,208.45 629.7,208.08 629.85,209.47 630.1,211.79 630.35,214.1 630.5,215.49 630.6,216.78 630.85,220 631.1,223.21 631.3,225.78 631.35,226.37 631.6,229.3 631.85,232.23 632.1,235.16 632.35,238.09 632.5,239.85 632.6,240.97 632.85,243.78 633.1,246.58 633.35,249.39 633.6,252.19 633.85,255.19 634.1,258.18 634.35,261.18 634.6,264.17 634.85,267.17 635.1,270.17 635.35,273.18 635.6,276.18 635.8,278.58 635.85,278.97 636.1,280.95 636.35,282.93 636.6,284.91 636.85,286.88 637.1,288.86 637.2,289.65 637.35,288.68 637.6,287.07 637.85,285.46 638.1,283.85 638.35,282.24 638.4,281.91 638.6,283.26 638.85,284.94 639.1,286.62 639.35,288.31 639.6,289.99 639.85,291.67 640.1,293.36 640.35,295.04 640.6,296.72 640.7,297.39 640.85,295.43 641.1,292.16 641.35,288.89 641.6,285.62 641.85,282.35 642,280.38 642.1,279.42 642.35,277.01 642.6,274.6 642.85,272.19 643.1,269.78 643.35,267.37 643.4,266.88 643.6,262.33 643.85,256.64 644.1,250.95 644.35,240.46 644.6,229.97 644.85,219.48 644.9,217.38 645.1,211.38 645.35,203.88 645.6,196.38 645.8,190.38 645.85,187.68 646.1,174.18 646.3,163.38 646.35,162.42 646.6,157.6 646.85,152.78 647,149.88 647.1,148.98 647.35,146.73 647.6,144.48 647.8,142.68 647.85,142.56 648.1,141.92 648.35,141.28 648.4,141.15 648.6,141.96 648.85,142.98 649,143.58 649.1,146.64 649.35,154.29 649.5,158.88 649.6,163.38 649.85,174.63 650,181.38 650.1,194.88 650.2,208.38 650.35,221.88 650.6,244.38 650.7,253.38 650.85,256.28 651.1,261.1 651.35,265.92 651.4,266.88 651.6,274.6 651.85,284.24 652.1,293.88 652.35,302.32 652.6,310.76 652.85,319.2 652.9,320.88 653.1,322.08 653.35,323.57 653.6,325.07 653.85,326.56 654.1,328.05 654.35,329.55 654.6,331.04 654.85,332.53 655.1,334.03 655.35,335.16 655.6,336.29 655.85,337.42 656.1,338.56 656.35,339.69 656.6,340.82 656.85,341.95 657.1,343.09 657.35,344.22 657.6,345.35 657.85,346.49 658,347.16 658.1,347.57 658.35,348.59 658.6,349.6 658.85,350.62 659.1,351.64 659.35,352.65 659.6,353.67 659.85,354.69 660.1,355.7 660.35,356.72 660.6,357.74 660.85,358.75 660.9,358.95 661.1,359.23 661.35,359.56 661.5,359.76 661.5,374.1" fill="#0000FF"/>
<polygon points="97.4,374.55 97.4,372.34 97.9,372.98 98.4,371.68 98.9,371.28 99.4,370.83 99.9,370.34 100.4,369.8 100.9,369.23 101.4,368.63 101.9,368.01 102.4,367.38 102.9,366.77 103.4,366.18 103.9,365.63 104.4,365.15 104.9,364.74 105.4,364.43 105.9,364.21 106.4,364.11 106.9,364.12 107.4,364.25 107.9,364.48 108.4,364.82 108.9,365.24 109.4,365.74 109.9,366.29 110.4,366.89 110.9,367.51 111.4,368.13 111.9,368.75 112.4,369.35 112.9,369.91 113.4,370.44 113.9,370.93 114.4,371.36 114.9,371.75 115.4,372.1 115.9,372.39 116.4,372.65 116.9,372.87 117.4,373.05 117.9,373.2 118.4,373.33 118.9,373.43 119.4,373.52 119.9,373.59 120.4,373.64 120.9,373.69 121.4,373.72 121.9,373.75 122.4,373.77 122.9,373.79 123.4,373.8 123.9,373.81 124.4,373.82 124.9,373.83 125.4,373.83 125.9,373.83 126.4,373.84 126.9,373.84 127.4,373.84 127.9,373.84 128.4,373.84 128.9,373.85 129.4,373.85 129.9,373.85 130.4,373.85 130.9,373.85 131.4,373.85 131.9,373.85 132.4,373.85 132.9,373.85 133.4,373.85 133.9,373.85 134.4,373.85 134.9,373.85 135.4,373.85 135.9,373.85 136.4,373.85 136.9,373.85 137.4,373.85 137.9,373.85 138.4,373.85 138.9,373.85 139.4,373.85 139.9,373.85 140.4,373.85 140.9,373.85 141.4,373.85 141.9,373.85 142.4,373.85 142.9,373.85 143.4,373.85 143.9,373.85 144.4,373.85 144.9,373.85 145.4,373.85 145.9,373.85 146.4,373.85 146.9,373.85 147.4,373.85 147.9,373.85 148.4,373.85 148.9,373.84 149.4,373.84 149.9,373.84 150.4,373.84 150.9,373.84 151.4,373.84 151.9,373.83 152.4,373.83 152.9,373.82 153.4,373.81 153.9,373.8 154.4,373.79 154.9,373.77 155.4,373.75 155.9,373.73 156.4,373.69 156.9,373.65 157.4,373.6 157.9,373.53 158.4,373.45 158.9,373.35 159.4,373.23 159.9,373.07 160.4,372.89 160.9,372.68 161.4,372.42 161.9,372.12 162.4,371.77 162.9,371.37 163.4,370.92 163.9,370.42 164.4,369.86 164.9,369.26 165.4,368.62 165.9,367.95 166.4,367.27 166.9,366.58 167.4,365.91 167.9,365.27 168.4,364.68 168.9,364.16 169.4,363.73 169.9,363.4 170.4,363.19 170.9,363.1 171.4,363.14 171.9,363.3 172.4,363.58 172.9,363.97 173.4,364.46 173.9,365.02 174.4,365.64 174.9,366.31 175.4,366.99 175.9,367.68 176.4,368.36 176.9,369.01 177.4,369.63 177.9,370.2 178.4,370.73 178.9,371.2 179.4,371.62 179.9,371.99 180.4,372.31 180.9,372.58 181.4,372.81 181.9,373.01 182.4,373.17 182.9,373.3 183.4,373.41 183.9,373.5 184.4,373.57 184.9,373.63 185.4,373.68 185.9,373.71 186.4,373.74 186.9,373.77 187.4,373.78 187.9,373.8 188.4,373.81 188.9,373.82 189.4,373.82 189.9,373.83 190.4,373.83 190.9,373.84 191.4,373.84 191.9,373.84 192.4,373.84 192.9,373.84 193.4,373.85 193.9,373.85 194.4,373.85 194.9,373.85 195.4,373.85 195.9,373.85 196.4,373.85 196.9,373.85 197.4,373.85 197.9,373.85 198.4,373.85 198.9,373.85 199.4,373.85 199.9,373.85 200.4,373.85 200.9,373.85 201.4,373.85 201.9,373.85 202.4,373.85 202.9,373.85 203.4,373.85 203.9,373.85 204.4,373.85 204.9,373.85 205.4,373.85 205.9,373.85 206.4,373.85 206.9,373.85 207.4,373.85 207.9,373.85 208.4,373.85 208.9,373.85 209.4,373.85 209.9,373.85 210.4,373.85 210.9,373.85 211.4,373.85 211.9,373.85 212.4,373.85 212.9,373.85 213.4,373.84 213.9,373.84 214.4,373.84 214.9,373.84 215.4,373.84 215.9,373.83 216.4,373.83 216.9,373.82 217.4,373.81 217.9,373.8 218.4,373.79 218.9,373.78 219.4,373.76 219.9,373.73 220.4,373.7 220.9,373.66 221.4,373.61 221.9,373.55 222.4,373.47 222.9,373.37 223.4,373.25 223.9,373.11 224.4,372.93 224.9,372.72 225.4,372.47 225.9,372.17 226.4,371.83 226.9,371.43 227.4,370.98 227.9,370.48 228.4,369.92 228.9,369.31 229.4,368.65 229.9,367.96 230.4,367.25 230.9,366.53 231.4,365.82 231.9,365.13 232.4,364.49 232.9,363.91 233.4,363.43 233.9,363.04 234.4,362.77 234.9,362.62 235.4,362.61 235.9,362.73 236.4,362.98 236.9,363.34 237.4,363.81 237.9,364.37 238.4,365 238.9,365.68 239.4,366.39 239.9,367.11 240.4,367.82 240.9,368.52 241.4,369.18 241.9,369.8 242.4,370.37 242.9,370.88 243.4,371.35 243.9,371.75 244.4,372.11 244.9,372.41 245.4,372.67 245.9,372.89 246.4,373.07 246.9,373.22 247.4,373.35 247.9,373.45 248.4,373.53 248.9,373.6 249.4,373.65 249.9,373.69 250.4,373.73 250.9,373.75 251.4,373.77 251.9,373.79 252.4,373.8 252.9,373.81 253.4,373.82 253.9,373.83 254.4,373.83 254.9,373.84 255.4,373.84 255.9,373.84 256.4,373.84 256.9,373.84 257.4,373.84 257.9,373.85 258.4,373.85 258.9,373.85 259.4,373.85 259.9,373.85 260.4,373.85 260.9,373.85 261.4,373.85 261.9,373.85 262.4,373.85 262.9,373.85 263.4,373.85 263.9,373.85 264.4,373.85 264.9,373.85 265.4,373.85 265.9,373.85 266.4,373.85 266.9,373.85 267.4,373.85 267.9,373.85 268.4,373.85 268.9,373.85 269.4,373.85 269.9,373.85 270.4,373.85 270.9,373.85 271.4,373.85 271.9,373.85 272.4,373.85 272.9,373.85 273.4,373.85 273.9,373.85 274.4,373.85 274.9,373.85 275.4,373.85 275.9,373.85 276.4,373.85 276.9,373.84 277.4,373.84 277.9,373.84 278.4,373.84 278.9,373.84 279.4,373.83 279.9,373.83 280.4,373.82 280.9,373.82 281.4,373.81 281.9,373.8 282.4,373.78 282.9,373.76 283.4,373.74 283.9,373.71 284.4,373.67 284.9,373.62 285.4,373.56 285.9,373.48 286.4,373.39 286.9,373.27 287.4,373.13 287.9,372.96 288.4,372.75 288.9,372.5 289.4,372.21 289.9,371.87 290.4,371.48 290.9,371.02 291.4,370.51 291.9,369.95 292.4,369.33 292.9,368.66 293.4,367.94 293.9,367.2 294.4,366.44 294.9,365.69 295.4,364.95 295.9,364.25 296.4,363.62 296.9,363.06 297.4,362.61 297.9,362.28 298.4,362.07 298.9,362 299.4,362.07 299.9,362.28 300.4,362.61 300.9,363.06 301.4,363.62 301.9,364.25 302.4,364.95 302.9,365.69 303.4,366.44 303.9,367.2 304.4,367.94 304.9,368.66 305.4,369.33 305.9,369.95 306.4,370.51 306.9,371.02 307.4,371.48 307.9,371.87 308.4,372.21 308.9,372.5 309.4,372.75 309.9,372.96 310.4,373.13 310.9,373.27 311.4,373.39 311.9,373.48 312.4,373.56 312.9,373.62 313.4,373.67 313.9,373.71 314.4,373.74 314.9,373.76 315.4,373.78 315.9,373.8 316.4,373.81 316.9,373.82 317.4,373.82 317.9,373.83 318.4,373.83 318.9,373.84 319.4,373.84 319.9,373.84 320.4,373.84 320.9,373.84 321.4,373.85 321.9,373.85 322.4,373.85 322.9,373.85 323.4,373.85 323.9,373.85 324.4,373.85 324.9,373.85 325.4,373.85 325.9,373.85 326.4,373.85 326.9,373.85 327.4,373.85 327.9,373.85 328.4,373.85 328.9,373.85 329.4,373.85 329.9,373.85 330.4,373.85 330.9,373.85 331.4,373.85 331.9,373.85 332.4,373.85 332.9,373.85 333.4,373.85 333.9,373.85 334.4,373.85 334.9,373.85 335.4,373.85 335.9,373.85 336.4,373.85 336.9,373.85 337.4,373.85 337.9,373.85 338.4,373.85 338.9,373.85 339.4,373.85 339.9,373.85 340.4,373.84 340.9,373.84 341.4,373.84 341.9,373.84 342.4,373.84 342.9,373.83 343.4,373.83 343.9,373.82 344.4,373.82 344.9,373.81 345.4,373.8 345.9,373.78 346.4,373.77 346.9,373.74 347.4,373.71 347.9,373.68 348.4,373.63 348.9,373.57 349.4,373.5 349.9,373.41 350.4,373.3 350.9,373.16 351.4,372.99 351.9,372.79 352.4,372.55 352.9,372.26 353.4,371.92 353.9,371.53 354.4,371.08 354.9,370.57 355.4,370 355.9,369.37 356.4,368.68 356.9,367.95 357.4,367.18 357.9,366.39 358.4,365.59 358.9,364.8 359.4,364.05 359.9,363.36 360.4,362.74 360.9,362.22 361.4,361.82 361.9,361.54 362.4,361.41 362.9,361.43 363.4,361.59 363.9,361.89 364.4,362.31 364.9,362.85 365.4,363.49 365.9,364.2 366.4,364.96 366.9,365.75 367.4,366.55 367.9,367.34 368.4,368.1 368.9,368.82 369.4,369.5 369.9,370.12 370.4,370.67 370.9,371.17 371.4,371.61 371.9,371.99 372.4,372.32 372.9,372.6 373.4,372.83 373.9,373.03 374.4,373.19 374.9,373.32 375.4,373.43 375.9,373.51 376.4,373.58 376.9,373.64 377.4,373.68 377.9,373.72 378.4,373.75 378.9,373.77 379.4,373.79 379.9,373.8 380.4,373.81 380.9,373.82 381.4,373.83 381.9,373.83 382.4,373.83 382.9,373.84 383.4,373.84 383.9,373.84 384.4,373.84 384.9,373.84 385.4,373.85 385.9,373.85 386.4,373.85 386.9,373.85 387.4,373.85 387.9,373.85 388.4,373.85 388.9,373.85 389.4,373.85 389.9,373.85 390.4,373.85 390.9,373.85 391.4,373.85 391.9,373.85 392.4,373.85 392.9,373.85 393.4,373.85 393.9,373.85 394.4,373.85 394.9,373.85 395.4,373.85 395.9,373.85 396.4,373.85 396.9,373.85 397.4,373.85 397.9,373.85 398.4,373.85 398.9,373.85 399.4,373.85 399.9,373.85 400.4,373.85 400.9,373.85 401.4,373.85 401.9,373.85 402.4,373.85 402.9,373.85 403.4,373.85 403.9,373.85 404.4,373.84 404.9,373.84 405.4,373.84 405.9,373.84 406.4,373.84 406.9,373.83 407.4,373.83 407.9,373.83 408.4,373.82 408.9,373.81 409.4,373.8 409.9,373.79 410.4,373.77 410.9,373.75 411.4,373.72 411.9,373.69 412.4,373.65 412.9,373.59 413.4,373.52 413.9,373.44 414.4,373.33 414.9,373.2 415.4,373.04 415.9,372.85 416.4,372.61 416.9,372.33 417.4,372 417.9,371.62 418.4,371.17 418.9,370.67 419.4,370.09 419.9,369.45 420.4,368.75 420.9,368 421.4,367.2 421.9,366.36 422.4,365.51 422.9,364.65 423.4,363.82 423.9,363.04 424.4,362.32 424.9,361.7 425.4,361.19 425.9,360.81 426.4,360.58 426.9,360.5 427.4,360.58 427.9,360.81 428.4,361.19 428.9,361.7 429.4,362.32 429.9,363.04 430.4,363.82 430.9,364.65 431.4,365.51 431.9,366.36 432.4,367.2 432.9,368 433.4,368.75 433.9,369.45 434.4,370.09 434.9,370.67 435.4,371.17 435.9,371.62 436.4,372 436.9,372.33 437.4,372.61 437.9,372.85 438.4,373.04 438.9,373.2 439.4,373.33 439.9,373.44 440.4,373.52 440.9,373.59 441.4,373.65 441.9,373.69 442.4,373.72 442.9,373.75 443.4,373.77 443.9,373.79 444.4,373.8 444.9,373.81 445.4,373.82 445.9,373.83 446.4,373.83 446.9,373.83 447.4,373.84 447.9,373.84 448.4,373.84 448.9,373.84 449.4,373.84 449.9,373.85 450.4,373.85 450.9,373.85 451.4,373.85 451.9,373.85 452.4,373.85 452.9,373.85 453.4,373.85 453.9,373.85 454.4,373.85 454.9,373.85 455.4,373.85 455.9,373.85 456.4,373.85 456.9,373.85 457.4,373.85 457.9,373.85 458.4,373.85 458.9,373.85 459.4,373.85 459.9,373.85 460.4,373.85 460.9,373.85 461.4,373.85 461.9,373.85 462.4,373.85 462.9,373.85 463.4,373.85 463.9,373.85 464.4,373.85 464.9,373.85 465.4,373.85 465.9,373.85 466.4,373.85 466.9,373.85 467.4,373.85 467.9,373.84 468.4,373.84 468.9,373.84 469.4,373.84 469.9,373.84 470.4,373.84 470.9,373.83 471.4,373.83 471.9,373.82 472.4,373.81 472.9,373.81 473.4,373.79 473.9,373.78 474.4,373.76 474.9,373.73 475.4,373.7 475.9,373.66 476.4,373.61 476.9,373.55 477.4,373.47 477.9,373.37 478.4,373.25 478.9,373.1 479.4,372.91 479.9,372.69 480.4,372.43 480.9,372.11 481.4,371.74 481.9,371.31 482.4,370.81 482.9,370.24 483.4,369.61 483.9,368.9 484.4,368.14 484.9,367.31 485.4,366.45 485.9,365.55 486.4,364.64 486.9,363.74 487.4,362.88 487.9,362.08 488.4,361.35 488.9,360.74 489.4,360.25 489.9,359.91 490.4,359.73 490.9,359.71 491.4,359.86 491.9,360.17 492.4,360.63 492.9,361.22 493.4,361.92 493.9,362.71 494.4,363.57 494.9,364.46 495.4,365.37 495.9,366.27 496.4,367.14 496.9,367.97 497.4,368.75 497.9,369.47 498.4,370.12 498.9,370.7 499.4,371.21 499.9,371.66 500.4,372.04 500.9,372.37 501.4,372.64 501.9,372.87 502.4,373.06 502.9,373.22 503.4,373.35 503.9,373.45 504.4,373.53 504.9,373.6 505.4,373.65 505.9,373.69 506.4,373.73 506.9,373.75 507.4,373.77 507.9,373.79 508.4,373.8 508.9,373.81 509.4,373.82 509.9,373.83 510.4,373.83 510.9,373.84 511.4,373.84 511.9,373.84 512.4,373.84 512.9,373.84 513.4,373.84 513.9,373.85 514.4,373.85 514.9,373.85 515.4,373.85 515.9,373.85 516.4,373.85 516.9,373.85 517.4,373.85 517.9,373.85 518.4,373.85 518.9,373.85 519.4,373.85 519.9,373.85 520.4,373.85 520.9,373.85 521.4,373.85 521.9,373.85 522.4,373.85 522.9,373.85 523.4,373.85 523.9,373.85 524.4,373.85 524.9,373.85 525.4,373.85 525.9,373.85 526.4,373.85 526.9,373.85 527.4,373.85 527.9,373.85 528.4,373.85 528.9,373.85 529.4,373.85 529.9,373.85 530.4,373.85 530.9,373.85 531.4,373.85 531.9,373.85 532.4,373.84 532.9,373.84 533.4,373.84 533.9,373.84 534.4,373.84 534.9,373.83 535.4,373.83 535.9,373.83 536.4,373.82 536.9,373.81 537.4,373.8 537.9,373.79 538.4,373.77 538.9,373.75 539.4,373.72 539.9,373.69 540.4,373.64 540.9,373.59 541.4,373.52 541.9,373.43 542.4,373.33 542.9,373.19 543.4,373.03 543.9,372.83 544.4,372.59 544.9,372.3 545.4,371.96 545.9,371.56 546.4,371.1 546.9,370.57 547.4,369.96 547.9,369.28 548.4,368.54 548.9,367.73 549.4,366.86 549.9,365.95 550.4,365.01 550.9,364.06 551.4,363.13 551.9,362.24 552.4,361.42 552.9,360.69 553.4,360.07 553.9,359.59 554.4,359.27 554.9,359.11 555.4,359.13 555.9,359.32 556.4,359.68 556.9,360.18 557.4,360.82 557.9,361.58 558.4,362.42 558.9,363.32 559.4,364.25 559.9,365.2 560.4,366.13 560.9,367.04 561.4,367.89 561.9,368.69 562.4,369.43 562.9,370.09 563.4,370.68 563.9,371.2 564.4,371.65 564.9,372.04 565.4,372.37 565.9,372.64 566.4,372.87 566.9,373.06 567.4,373.22 567.9,373.35 568.4,373.45 568.9,373.53 569.4,373.6 569.9,373.65 570.4,373.7 570.9,373.73 571.4,373.75 571.9,373.77 572.4,373.79 572.9,373.8 573.4,373.81 573.9,373.82 574.4,373.83 574.9,373.83 575.4,373.84 575.9,373.84 576.4,373.84 576.9,373.84 577.4,373.84 577.9,373.84 578.4,373.85 578.9,373.85 579.4,373.85 579.9,373.85 580.4,373.85 580.9,373.85 581.4,373.85 581.9,373.85 582.4,373.85 582.9,373.85 583.4,373.85 583.9,373.85 584.4,373.85 584.9,373.85 585.4,373.85 585.9,373.85 586.4,373.85 586.9,373.85 587.4,373.85 587.9,373.85 588.4,373.85 588.9,373.85 589.4,373.85 589.9,373.85 590.4,373.85 590.9,373.85 591.4,373.85 591.9,373.85 592.4,373.85 592.9,373.85 593.4,373.85 593.9,373.85 594.4,373.85 594.9,373.85 595.4,373.85 595.9,373.84 596.4,373.84 596.9,373.84 597.4,373.84 597.9,373.84 598.4,373.84 598.9,373.83 599.4,373.83 599.9,373.82 600.4,373.81 600.9,373.8 601.4,373.79 601.9,373.78 602.4,373.76 602.9,373.73 603.4,373.7 603.9,373.66 604.4,373.61 604.9,373.54 605.4,373.46 605.9,373.36 606.4,373.24 606.9,373.08 607.4,372.89 607.9,372.67 608.4,372.39 608.9,372.06 609.4,371.67 609.9,371.22 610.4,370.69 610.9,370.09 611.4,369.42 611.9,368.66 612.4,367.84 612.9,366.95 613.4,366 613.9,365.01 614.4,364 614.9,363 615.4,362.02 615.9,361.09 616.4,360.25 616.9,359.51 617.4,358.91 617.9,358.47 618.4,358.19 618.9,358.1 619.4,358.19 619.9,358.47 620.4,358.91 620.9,359.51 621.4,360.25 621.9,361.09 622.4,362.02 622.9,363 623.4,364 623.9,365.01 624.4,366 624.9,366.95 625.4,367.84 625.9,368.66 626.4,369.42 626.9,370.09 627.4,370.69 627.9,371.22 628.4,371.67 628.9,372.06 629.4,372.39 629.9,372.67 630.4,372.89 630.9,373.08 631.4,373.24 631.9,373.36 632.4,373.46 632.9,373.54 633.4,373.61 633.9,373.66 634.4,373.7 634.9,373.73 635.4,373.76 635.9,373.78 636.4,373.79 636.9,373.8 637.4,373.81 637.9,373.82 638.4,373.83 638.9,373.83 639.4,373.84 639.9,373.84 640.4,373.84 640.9,373.84 641.4,373.84 641.9,373.84 642.4,373.85 642.9,373.85 643.4,373.85 643.9,373.85 644.4,373.85 644.9,373.85 645.4,373.85 645.9,373.85 646.4,373.85 646.9,373.85 647.4,373.85 647.9,373.85 648.4,373.85 648.9,373.85 649.4,373.85 649.9,373.85 650.4,373.85 650.9,373.85 651.4,373.85 651.9,373.85 652.4,373.85 652.9,373.85 653.4,373.85 653.9,373.85 654.4,373.85 654.9,373.85 655.4,373.85 655.9,373.85 656.4,373.85 656.9,373.85 657.4,373.85 657.9,373.85 658.4,373.85 658.9,373.85 659.4,373.85 659.9,373.85 660.4,373.85 660.9,373.85 661.4,373.85 661.5,374.55" fill="#D3D3D3"/>
<g fill="#000"><circle cx="86.2" cy="372.3" r="2.05"/><circle cx="87.3" cy="372.75" r="2.05"/><circle cx="88.4" cy="373.2" r="2.05"/><circle cx="89.5" cy="373.35" r="2.05"/><circle cx="90.6" cy="373.5" r="2.05"/><circle cx="91.7" cy="373.1" r="2.05"/><circle cx="92.8" cy="372.7" r="2.05"/><circle cx="93.9" cy="372" r="2.05"/><circle cx="95" cy="371.3" r="2.05"/><circle cx="96.05" cy="369.85" r="2.05"/><circle cx="97.1" cy="368.4" r="2.05"/><circle cx="98.6" cy="366.2" r="2.05"/><circle cx="99.8" cy="361.5" r="2.05"/><circle cx="100.8" cy="344.6" r="2.05"/><circle cx="102.2" cy="337.7" r="2.05"/><circle cx="103.7" cy="335.5" r="2.05"/><circle cx="104.7" cy="331.9" r="2.05"/><circle cx="105.6" cy="330.4" r="2.05"/><circle cx="106.6" cy="332.6" r="2.05"/><circle cx="107.4" cy="341.4" r="2.05"/><circle cx="109.1" cy="353" r="2.05"/><circle cx="110" cy="351.3" r="2.05"/><circle cx="111" cy="344" r="2.05"/><circle cx="112.5" cy="341.4" r="2.05"/><circle cx="113.9" cy="340.6" r="2.05"/><circle cx="114.9" cy="339.6" r="2.05"/><circle cx="115.8" cy="332.6" r="2.05"/><circle cx="117.3" cy="332.6" r="2.05"/><circle cx="118.3" cy="334.8" r="2.05"/><circle cx="119.3" cy="343.1" r="2.05"/><circle cx="120.8" cy="349.4" r="2.05"/><circle cx="122.2" cy="353" r="2.05"/><circle cx="123.4" cy="353.8" r="2.05"/><circle cx="124.9" cy="358.1" r="2.05"/><circle cx="126.3" cy="359.6" r="2.05"/><circle cx="127.8" cy="359.6" r="2.05"/><circle cx="129.3" cy="357.4" r="2.05"/><circle cx="130.4" cy="352.3" r="2.05"/><circle cx="131.6" cy="342.1" r="2.05"/><circle cx="132.9" cy="338.4" r="2.05"/><circle cx="134.4" cy="337" r="2.05"/><circle cx="135.1" cy="347.9" r="2.05"/><circle cx="136.6" cy="349.4" r="2.05"/><circle cx="138.3" cy="350.8" r="2.05"/><circle cx="139.5" cy="353" r="2.05"/><circle cx="140.9" cy="355.2" r="2.05"/><circle cx="142.4" cy="356" r="2.05"/><circle cx="143.1" cy="359.6" r="2.05"/><circle cx="144.6" cy="361.8" r="2.05"/><circle cx="145.55" cy="361.05" r="2.05"/><circle cx="146.5" cy="360.3" r="2.05"/><circle cx="148.2" cy="358.1" r="2.05"/><circle cx="149.7" cy="361.1" r="2.05"/><circle cx="151.4" cy="354.5" r="2.05"/><circle cx="152.9" cy="353" r="2.05"/><circle cx="153.85" cy="354.5" r="2.05"/><circle cx="154.8" cy="356" r="2.05"/><circle cx="156.3" cy="357.4" r="2.05"/><circle cx="157.7" cy="365.4" r="2.05"/><circle cx="158.7" cy="363.3" r="2.05"/><circle cx="160.45" cy="359.5" r="2.05"/><circle cx="161.6" cy="348.85" r="2.05"/><circle cx="162.7" cy="341.2" r="2.05"/><circle cx="163.8" cy="337.9" r="2.05"/><circle cx="165.05" cy="329.15" r="2.05"/><circle cx="166.6" cy="313.2" r="2.05"/><circle cx="167.6" cy="282" r="2.05"/><circle cx="168.8" cy="262.6" r="2.05"/><circle cx="170.2" cy="275" r="2.05"/><circle cx="171.4" cy="278.7" r="2.05"/><circle cx="172.8" cy="275" r="2.05"/><circle cx="173.9" cy="254.2" r="2.05"/><circle cx="175" cy="249.1" r="2.05"/><circle cx="176.4" cy="270.7" r="2.05"/><circle cx="177.5" cy="272.8" r="2.05"/><circle cx="178.7" cy="291.1" r="2.05"/><circle cx="180.4" cy="278.7" r="2.05"/><circle cx="181.6" cy="281.6" r="2.05"/><circle cx="182.6" cy="284.5" r="2.05"/><circle cx="183.4" cy="299.9" r="2.05"/><circle cx="185.1" cy="305.5" r="2.05"/><circle cx="186.3" cy="316.2" r="2.05"/><circle cx="187.4" cy="318.4" r="2.05"/><circle cx="188.5" cy="326.8" r="2.05"/><circle cx="189.9" cy="332.2" r="2.05"/><circle cx="191.4" cy="334.4" r="2.05"/><circle cx="192.8" cy="337.3" r="2.05"/><circle cx="193.9" cy="338.8" r="2.05"/><circle cx="194.7" cy="328.3" r="2.05"/><circle cx="196.2" cy="318.1" r="2.05"/><circle cx="197.2" cy="310.8" r="2.05"/><circle cx="198.7" cy="311.4" r="2.05"/><circle cx="199.7" cy="327.4" r="2.05"/><circle cx="201.2" cy="318.6" r="2.05"/><circle cx="202.3" cy="332.7" r="2.05"/><circle cx="203.5" cy="345.8" r="2.05"/><circle cx="204.9" cy="352.75" r="2.05"/><circle cx="206.7" cy="351.9" r="2.05"/><circle cx="208.2" cy="354.1" r="2.05"/><circle cx="208.9" cy="355.8" r="2.05"/><circle cx="209.85" cy="357.25" r="2.05"/><circle cx="210.8" cy="358.7" r="2.05"/><circle cx="212.6" cy="360.1" r="2.05"/><circle cx="214.3" cy="363.8" r="2.05"/><circle cx="216.2" cy="367.4" r="2.05"/><circle cx="217.15" cy="368.9" r="2.05"/><circle cx="218.1" cy="370.4" r="2.05"/><circle cx="219.9" cy="371.8" r="2.05"/><circle cx="220.95" cy="371.3" r="2.05"/><circle cx="222" cy="370.8" r="2.05"/><circle cx="223.1" cy="369.85" r="2.05"/><circle cx="224.2" cy="368.9" r="2.05"/><circle cx="225.3" cy="367.65" r="2.05"/><circle cx="226.4" cy="366.4" r="2.05"/><circle cx="227.5" cy="364.75" r="2.05"/><circle cx="228.6" cy="363.1" r="2.05"/><circle cx="230.4" cy="360.6" r="2.05"/><circle cx="231.5" cy="352.7" r="2.05"/><circle cx="233" cy="346.1" r="2.05"/><circle cx="234.2" cy="341" r="2.05"/><circle cx="235.6" cy="331.2" r="2.05"/><circle cx="236.6" cy="299.9" r="2.05"/><circle cx="237.8" cy="258.1" r="2.05"/><circle cx="238.9" cy="237.6" r="2.05"/><circle cx="239.9" cy="262.4" r="2.05"/><circle cx="241.4" cy="266.4" r="2.05"/><circle cx="242.5" cy="241" r="2.05"/><circle cx="244" cy="221.1" r="2.05"/><circle cx="245.1" cy="231.8" r="2.05"/><circle cx="246.6" cy="224.9" r="2.05"/><circle cx="247.6" cy="244.9" r="2.05"/><circle cx="249.1" cy="260.3" r="2.05"/><circle cx="250.05" cy="272.65" r="2.05"/><circle cx="251.4" cy="289.8" r="2.05"/><circle cx="252.35" cy="300.15" r="2.05"/><circle cx="254.05" cy="304.8" r="2.05"/><circle cx="254.95" cy="308.8" r="2.05"/><circle cx="256.3" cy="313.85" r="2.05"/><circle cx="257.6" cy="315.8" r="2.05"/><circle cx="258.6" cy="293.2" r="2.05"/><circle cx="260" cy="285.5" r="2.05"/><circle cx="261" cy="297.5" r="2.05"/><circle cx="262.2" cy="304.1" r="2.05"/><circle cx="263.3" cy="310.8" r="2.05"/><circle cx="265.1" cy="296.5" r="2.05"/><circle cx="266.2" cy="307" r="2.05"/><circle cx="267.2" cy="293.6" r="2.05"/><circle cx="268.2" cy="297.2" r="2.05"/><circle cx="270.1" cy="286.5" r="2.05"/><circle cx="271.1" cy="290.3" r="2.05"/><circle cx="272.2" cy="295.1" r="2.05"/><circle cx="273.7" cy="309" r="2.05"/><circle cx="274.4" cy="324.7" r="2.05"/><circle cx="276" cy="338.1" r="2.05"/><circle cx="277" cy="343" r="2.05"/><circle cx="278.5" cy="355.1" r="2.05"/><circle cx="279.9" cy="354.4" r="2.05"/><circle cx="280.7" cy="360.5" r="2.05"/><circle cx="282.1" cy="364.6" r="2.05"/><circle cx="283.9" cy="361.4" r="2.05"/><circle cx="284.85" cy="359.75" r="2.05"/><circle cx="285.8" cy="358.1" r="2.05"/><circle cx="287.2" cy="352.2" r="2.05"/><circle cx="288.2" cy="348.3" r="2.05"/><circle cx="289.4" cy="342" r="2.05"/><circle cx="290.4" cy="324.7" r="2.05"/><circle cx="291.9" cy="319" r="2.05"/><circle cx="292.9" cy="299.8" r="2.05"/><circle cx="294.3" cy="309.4" r="2.05"/><circle cx="295.7" cy="283.9" r="2.05"/><circle cx="296.8" cy="233.2" r="2.05"/><circle cx="298.1" cy="201.1" r="2.05"/><circle cx="299.5" cy="190.9" r="2.05"/><circle cx="300.5" cy="177.7" r="2.05"/><circle cx="301.9" cy="169.3" r="2.05"/><circle cx="303" cy="195.3" r="2.05"/><circle cx="303.8" cy="242" r="2.05"/><circle cx="305.3" cy="250.5" r="2.05"/><circle cx="306.5" cy="266.1" r="2.05"/><circle cx="308" cy="273.15" r="2.05"/><circle cx="309.1" cy="281.6" r="2.05"/><circle cx="310.1" cy="287.1" r="2.05"/><circle cx="311.6" cy="297.3" r="2.05"/><circle cx="313.1" cy="307.8" r="2.05"/><circle cx="314.2" cy="319.1" r="2.05"/><circle cx="315.4" cy="324.1" r="2.05"/><circle cx="316.9" cy="328.1" r="2.05"/><circle cx="318.3" cy="327.4" r="2.05"/><circle cx="319.8" cy="319.1" r="2.05"/><circle cx="321.5" cy="310.2" r="2.05"/><circle cx="322.7" cy="285.7" r="2.05"/><circle cx="323.5" cy="264.3" r="2.05"/><circle cx="325.2" cy="269.3" r="2.05"/><circle cx="326.2" cy="264.1" r="2.05"/><circle cx="327.7" cy="293.7" r="2.05"/><circle cx="328.8" cy="310.2" r="2.05"/><circle cx="329.9" cy="310.5" r="2.05"/><circle cx="331" cy="310.8" r="2.05"/><circle cx="332.9" cy="311.2" r="2.05"/><circle cx="333.2" cy="316.2" r="2.05"/><circle cx="334.4" cy="314.1" r="2.05"/><circle cx="336.1" cy="318" r="2.05"/><circle cx="337.6" cy="322.3" r="2.05"/><circle cx="339.3" cy="319.1" r="2.05"/><circle cx="340.8" cy="326.7" r="2.05"/><circle cx="342.3" cy="340.5" r="2.05"/><circle cx="343.4" cy="350.8" r="2.05"/><circle cx="344.9" cy="353.7" r="2.05"/><circle cx="346.1" cy="358.1" r="2.05"/><circle cx="347.1" cy="361.4" r="2.05"/><circle cx="348.5" cy="365.4" r="2.05"/><circle cx="349.5" cy="365.6" r="2.05"/><circle cx="350.5" cy="365.8" r="2.05"/><circle cx="352.4" cy="362" r="2.05"/><circle cx="353.9" cy="358.1" r="2.05"/><circle cx="355.8" cy="350.3" r="2.05"/><circle cx="357.2" cy="340.1" r="2.05"/><circle cx="358.7" cy="334.7" r="2.05"/><circle cx="359.7" cy="337.2" r="2.05"/><circle cx="361.2" cy="329.9" r="2.05"/><circle cx="362.6" cy="297.8" r="2.05"/><circle cx="364.1" cy="300" r="2.05"/><circle cx="366" cy="271.6" r="2.05"/><circle cx="367" cy="227.4" r="2.05"/><circle cx="368.1" cy="194.1" r="2.05"/><circle cx="369.6" cy="169.7" r="2.05"/><circle cx="370.6" cy="203.3" r="2.05"/><circle cx="371.95" cy="209.2" r="2.05"/><circle cx="373.1" cy="192.6" r="2.05"/><circle cx="374.3" cy="183.9" r="2.05"/><circle cx="375.8" cy="193.6" r="2.05"/><circle cx="377.2" cy="208.2" r="2.05"/><circle cx="378.15" cy="210.25" r="2.05"/><circle cx="379.1" cy="212.3" r="2.05"/><circle cx="380.6" cy="224.1" r="2.05"/><circle cx="381.6" cy="242.4" r="2.05"/><circle cx="383.1" cy="255.1" r="2.05"/><circle cx="384.1" cy="229.9" r="2.05"/><circle cx="385.5" cy="223.5" r="2.05"/><circle cx="386.7" cy="206.7" r="2.05"/><circle cx="387.9" cy="187.7" r="2.05"/><circle cx="389.3" cy="224.5" r="2.05"/><circle cx="390.4" cy="268.3" r="2.05"/><circle cx="391.4" cy="294.2" r="2.05"/><circle cx="392.8" cy="320.15" r="2.05"/><circle cx="393.7" cy="334.3" r="2.05"/><circle cx="395.2" cy="350" r="2.05"/><circle cx="396.6" cy="353.2" r="2.05"/><circle cx="397.65" cy="353.45" r="2.05"/><circle cx="398.7" cy="353.7" r="2.05"/><circle cx="400.1" cy="358.5" r="2.05"/><circle cx="402" cy="360.5" r="2.05"/><circle cx="403.1" cy="360.95" r="2.05"/><circle cx="404.2" cy="361.4" r="2.05"/><circle cx="405.3" cy="361.4" r="2.05"/><circle cx="406.4" cy="361.4" r="2.05"/><circle cx="407.9" cy="363.5" r="2.05"/><circle cx="409" cy="363.7" r="2.05"/><circle cx="410.1" cy="363.9" r="2.05"/><circle cx="411.8" cy="367.6" r="2.05"/><circle cx="413" cy="363.2" r="2.05"/><circle cx="414.7" cy="362.4" r="2.05"/><circle cx="415.9" cy="358.5" r="2.05"/><circle cx="417.6" cy="354.25" r="2.05"/><circle cx="418.6" cy="343.5" r="2.05"/><circle cx="420.05" cy="330.3" r="2.05"/><circle cx="421" cy="307" r="2.05"/><circle cx="422.5" cy="298.9" r="2.05"/><circle cx="423.45" cy="264.85" r="2.05"/><circle cx="424.9" cy="211.75" r="2.05"/><circle cx="426" cy="135.6" r="2.05"/><circle cx="427.4" cy="78.1" r="2.05"/><circle cx="428.5" cy="143.4" r="2.05"/><circle cx="429.5" cy="106" r="2.05"/><circle cx="430.9" cy="58.7" r="2.05"/><circle cx="432.1" cy="29.8" r="2.05"/><circle cx="433.6" cy="76.6" r="2.05"/><circle cx="434.7" cy="112.7" r="2.05"/><circle cx="435.7" cy="172.35" r="2.05"/><circle cx="437.15" cy="202.4" r="2.05"/><circle cx="438.5" cy="208.2" r="2.05"/><circle cx="439.5" cy="224.8" r="2.05"/><circle cx="441.2" cy="244.9" r="2.05"/><circle cx="442" cy="274.7" r="2.05"/><circle cx="443.5" cy="294" r="2.05"/><circle cx="444.5" cy="307.4" r="2.05"/><circle cx="446" cy="316.2" r="2.05"/><circle cx="447.4" cy="316.9" r="2.05"/><circle cx="448.2" cy="319.8" r="2.05"/><circle cx="449.9" cy="320.5" r="2.05"/><circle cx="450.8" cy="305.2" r="2.05"/><circle cx="451.8" cy="272.4" r="2.05"/><circle cx="452.8" cy="243.7" r="2.05"/><circle cx="455.2" cy="262.6" r="2.05"/><circle cx="456.9" cy="320.1" r="2.05"/><circle cx="458.4" cy="326.8" r="2.05"/><circle cx="459.6" cy="326" r="2.05"/><circle cx="460.6" cy="332.7" r="2.05"/><circle cx="462" cy="338.1" r="2.05"/><circle cx="463.5" cy="339.5" r="2.05"/><circle cx="464.6" cy="337.85" r="2.05"/><circle cx="465.7" cy="336.2" r="2.05"/><circle cx="466.9" cy="344.3" r="2.05"/><circle cx="467.95" cy="351.75" r="2.05"/><circle cx="469.7" cy="357.4" r="2.05"/><circle cx="470.65" cy="359.8" r="2.05"/><circle cx="471.6" cy="362.2" r="2.05"/><circle cx="472.7" cy="363.3" r="2.05"/><circle cx="473.8" cy="364.4" r="2.05"/><circle cx="474.9" cy="365.85" r="2.05"/><circle cx="476" cy="367.3" r="2.05"/><circle cx="477.1" cy="368.9" r="2.05"/><circle cx="478.2" cy="370.5" r="2.05"/><circle cx="479.3" cy="368.9" r="2.05"/><circle cx="480.4" cy="367.3" r="2.05"/><circle cx="481.35" cy="365.85" r="2.05"/><circle cx="482.3" cy="364.4" r="2.05"/><circle cx="484" cy="358.9" r="2.05"/><circle cx="485.4" cy="350.5" r="2.05"/><circle cx="486.4" cy="338.8" r="2.05"/><circle cx="487.4" cy="324.8" r="2.05"/><circle cx="488.6" cy="325.25" r="2.05"/><circle cx="489.8" cy="325.7" r="2.05"/><circle cx="491.45" cy="311" r="2.05"/><circle cx="492.45" cy="272.95" r="2.05"/><circle cx="493.55" cy="229.8" r="2.05"/><circle cx="494.85" cy="215.9" r="2.05"/><circle cx="496.05" cy="192.35" r="2.05"/><circle cx="497.5" cy="176" r="2.05"/><circle cx="498.5" cy="188.5" r="2.05"/><circle cx="499.6" cy="199.65" r="2.05"/><circle cx="501" cy="214" r="2.05"/><circle cx="502.4" cy="206.4" r="2.05"/><circle cx="503.6" cy="189.5" r="2.05"/><circle cx="504.7" cy="224.5" r="2.05"/><circle cx="506.2" cy="215.2" r="2.05"/><circle cx="507.7" cy="199.7" r="2.05"/><circle cx="508.2" cy="215.2" r="2.05"/><circle cx="509.4" cy="246.8" r="2.05"/><circle cx="510.9" cy="251.5" r="2.05"/><circle cx="512.3" cy="244.5" r="2.05"/><circle cx="513.5" cy="264.3" r="2.05"/><circle cx="514.5" cy="248.3" r="2.05"/><circle cx="516" cy="237.6" r="2.05"/><circle cx="516.7" cy="229.6" r="2.05"/><circle cx="518.5" cy="201.6" r="2.05"/><circle cx="519.6" cy="232.8" r="2.05"/><circle cx="520.8" cy="275.1" r="2.05"/><circle cx="521.7" cy="316" r="2.05"/><circle cx="523.5" cy="321.6" r="2.05"/><circle cx="525.3" cy="323.5" r="2.05"/><circle cx="525.7" cy="330.6" r="2.05"/><circle cx="526.55" cy="324.8" r="2.05"/><circle cx="528.2" cy="320.4" r="2.05"/><circle cx="529.3" cy="337.7" r="2.05"/><circle cx="530.8" cy="343.25" r="2.05"/><circle cx="532.3" cy="347.6" r="2.05"/><circle cx="533" cy="336.7" r="2.05"/><circle cx="535.1" cy="349.2" r="2.05"/><circle cx="536.8" cy="354.6" r="2.05"/><circle cx="537.95" cy="357.3" r="2.05"/><circle cx="539.5" cy="364.55" r="2.05"/><circle cx="540.8" cy="370.25" r="2.05"/><circle cx="542" cy="365.3" r="2.05"/><circle cx="543.5" cy="364.25" r="2.05"/><circle cx="545.25" cy="361.85" r="2.05"/><circle cx="547" cy="356.05" r="2.05"/><circle cx="548.2" cy="355.3" r="2.05"/><circle cx="548.8" cy="350.4" r="2.05"/><circle cx="550.2" cy="340.85" r="2.05"/><circle cx="551.65" cy="316.6" r="2.05"/><circle cx="552.75" cy="274.35" r="2.05"/><circle cx="554.1" cy="223.3" r="2.05"/><circle cx="555.25" cy="168.75" r="2.05"/><circle cx="556.3" cy="91.8" r="2.05"/><circle cx="557.4" cy="77.8" r="2.05"/><circle cx="559.2" cy="144.9" r="2.05"/><circle cx="560.3" cy="145.65" r="2.05"/><circle cx="561.4" cy="146.4" r="2.05"/><circle cx="562.35" cy="182.3" r="2.05"/><circle cx="564.05" cy="195.9" r="2.05"/><circle cx="565" cy="225.8" r="2.05"/><circle cx="566.5" cy="246.2" r="2.05"/><circle cx="567.6" cy="272.5" r="2.05"/><circle cx="568.7" cy="284.1" r="2.05"/><circle cx="569.5" cy="307.85" r="2.05"/><circle cx="571.2" cy="328.5" r="2.05"/><circle cx="572.6" cy="335.2" r="2.05"/><circle cx="574.5" cy="331.8" r="2.05"/><circle cx="576" cy="334" r="2.05"/><circle cx="577.4" cy="327.9" r="2.05"/><circle cx="578.5" cy="297.5" r="2.05"/><circle cx="580.4" cy="301.2" r="2.05"/><circle cx="580.8" cy="303.6" r="2.05"/><circle cx="582.3" cy="300.1" r="2.05"/><circle cx="583.7" cy="312.1" r="2.05"/><circle cx="585.2" cy="306.05" r="2.05"/><circle cx="586" cy="273.2" r="2.05"/><circle cx="587.2" cy="252.4" r="2.05"/><circle cx="588.3" cy="291.95" r="2.05"/><circle cx="589.5" cy="286.5" r="2.05"/><circle cx="591.05" cy="282.1" r="2.05"/><circle cx="592" cy="280.5" r="2.05"/><circle cx="593.1" cy="317.7" r="2.05"/><circle cx="594.2" cy="325.5" r="2.05"/><circle cx="595.7" cy="331.8" r="2.05"/><circle cx="596.9" cy="336.6" r="2.05"/><circle cx="598.3" cy="346" r="2.05"/><circle cx="599.3" cy="350.4" r="2.05"/><circle cx="600.8" cy="355.3" r="2.05"/><circle cx="601.8" cy="361.2" r="2.05"/><circle cx="603" cy="363.1" r="2.05"/><circle cx="604.7" cy="363.5" r="2.05"/><circle cx="606.6" cy="363.5" r="2.05"/><circle cx="608.5" cy="362.3" r="2.05"/><circle cx="610" cy="360.1" r="2.05"/><circle cx="611.8" cy="356.2" r="2.05"/><circle cx="613.8" cy="349.9" r="2.05"/><circle cx="615.8" cy="338.4" r="2.05"/><circle cx="616.9" cy="318.2" r="2.05"/><circle cx="618.1" cy="304.4" r="2.05"/><circle cx="619.05" cy="285.3" r="2.05"/><circle cx="620.4" cy="252.35" r="2.05"/><circle cx="621.6" cy="225.35" r="2.05"/><circle cx="622.9" cy="229.65" r="2.05"/><circle cx="624.15" cy="236.6" r="2.05"/><circle cx="625.35" cy="208.1" r="2.05"/><circle cx="626.6" cy="196.3" r="2.05"/><circle cx="628.1" cy="184.5" r="2.05"/><circle cx="629.1" cy="183.2" r="2.05"/><circle cx="630.5" cy="203" r="2.05"/><circle cx="631.4" cy="222.6" r="2.05"/><circle cx="632.9" cy="245.5" r="2.05"/><circle cx="633.9" cy="263" r="2.05"/><circle cx="634.6" cy="278.6" r="2.05"/><circle cx="636.4" cy="275.1" r="2.05"/><circle cx="637.6" cy="270.3" r="2.05"/><circle cx="639.3" cy="278.1" r="2.05"/><circle cx="640.2" cy="285.7" r="2.05"/><circle cx="641.6" cy="274.7" r="2.05"/><circle cx="642.7" cy="212.4" r="2.05"/><circle cx="643.7" cy="188.8" r="2.05"/><circle cx="644.9" cy="134.5" r="2.05"/><circle cx="646.3" cy="109" r="2.05"/><circle cx="647.5" cy="104.3" r="2.05"/><circle cx="648.9" cy="188.1" r="2.05"/><circle cx="650" cy="253.3" r="2.05"/><circle cx="651" cy="299.1" r="2.05"/><circle cx="652.4" cy="328.4" r="2.05"/><circle cx="653.75" cy="329.9" r="2.05"/><circle cx="655.1" cy="331.4" r="2.05"/><circle cx="656.2" cy="336.6" r="2.05"/><circle cx="657.3" cy="347.1" r="2.05"/><circle cx="658.7" cy="354.1" r="2.05"/><circle cx="660.6" cy="358.1" r="2.05"/></g>

<line x1="536.9" y1="39.7" x2="561.8" y2="39.7" stroke="#FFA500" stroke-width="5.1" stroke-linecap="round"/>
<line x1="536.9" y1="56.4" x2="561.8" y2="56.4" stroke="#0000FF" stroke-width="5.1" stroke-linecap="round"/>
<line x1="536.9" y1="72.9" x2="561.8" y2="72.9" stroke="#D3D3D3" stroke-width="5.1" stroke-linecap="round"/>

<g class="t"><rect x="63.55" y="16.4" width="620.45" height="372.1" fill="none" stroke="#333" stroke-width="1.1"/>
<line x1="55" y1="374.5" x2="63.5" y2="374.5" stroke="#333" stroke-width="1.1"/>
<text transform="translate(43.7,374.5) rotate(-90)" text-anchor="middle">0</text>
<line x1="55" y1="315.5" x2="63.5" y2="315.5" stroke="#333" stroke-width="1.1"/>
<text transform="translate(43.7,315.5) rotate(-90)" text-anchor="middle">5000</text>
<line x1="55" y1="256.4" x2="63.5" y2="256.4" stroke="#333" stroke-width="1.1"/>
<text transform="translate(43.7,256.4) rotate(-90)" text-anchor="middle">10000</text>
<line x1="55" y1="197.4" x2="63.5" y2="197.4" stroke="#333" stroke-width="1.1"/>
<text transform="translate(43.7,197.4) rotate(-90)" text-anchor="middle">15000</text>
<line x1="55" y1="137.9" x2="63.5" y2="137.9" stroke="#333" stroke-width="1.1"/>
<text transform="translate(43.7,137.9) rotate(-90)" text-anchor="middle">20000</text>
<line x1="55" y1="78.7" x2="63.5" y2="78.7" stroke="#333" stroke-width="1.1"/>
<text transform="translate(43.7,78.7) rotate(-90)" text-anchor="middle">25000</text>
<line x1="55" y1="19.5" x2="63.5" y2="19.5" stroke="#333" stroke-width="1.1"/>
<text transform="translate(43.7,19.5) rotate(-90)" text-anchor="middle">30000</text>
<line x1="149.3" y1="388.5" x2="149.3" y2="396.8" stroke="#333" stroke-width="1.1"/>
<text x="149.3" y="417.8" text-anchor="middle">2010</text>
<line x1="277.23" y1="388.5" x2="277.23" y2="396.8" stroke="#333" stroke-width="1.1"/>
<text x="277.23" y="417.8" text-anchor="middle">2012</text>
<line x1="405.15" y1="388.5" x2="405.15" y2="396.8" stroke="#333" stroke-width="1.1"/>
<text x="405.15" y="417.8" text-anchor="middle">2014</text>
<line x1="533.08" y1="388.5" x2="533.08" y2="396.8" stroke="#333" stroke-width="1.1"/>
<text x="533.08" y="417.8" text-anchor="middle">2016</text>
<line x1="661" y1="388.5" x2="661" y2="396.8" stroke="#333" stroke-width="1.1"/>
<text x="661" y="417.8" text-anchor="middle">2018</text>
<text transform="translate(10.6,202.1) rotate(-90)" text-anchor="middle" style="font-size:13.9px">No. infected</text>
<text x="574.3" y="45.3">spatiotemporal</text>
<text x="574.3" y="61.8">autoregressive</text>
<text x="574.3" y="78.2">endemic</text>
</g>
</svg>
</body></html>
